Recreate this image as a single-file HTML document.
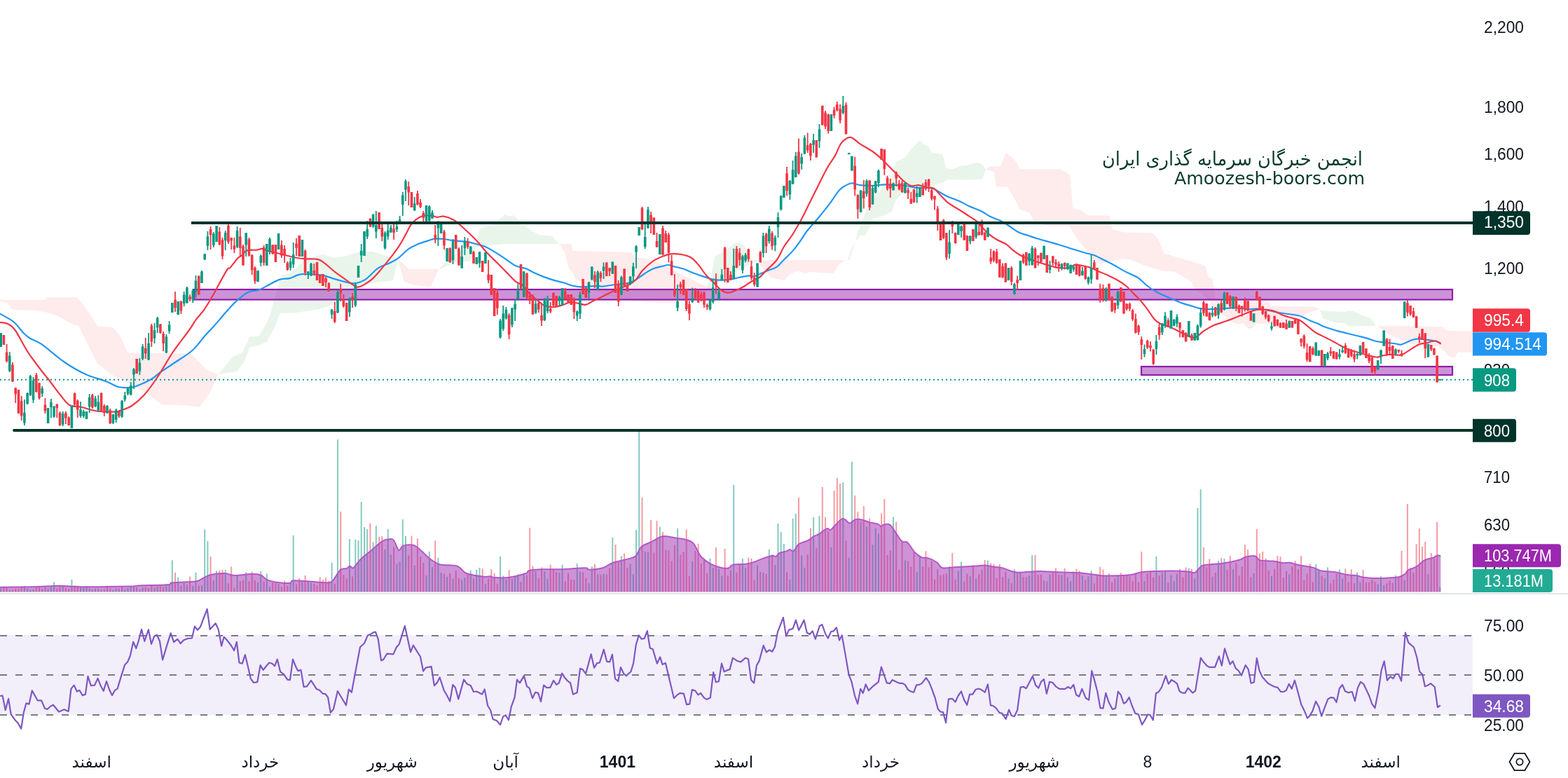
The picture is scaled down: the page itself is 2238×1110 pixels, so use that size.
<!DOCTYPE html>
<html><head><meta charset="utf-8"><title>Chart</title>
<style>html,body{margin:0;padding:0;background:#fff;overflow:hidden}svg{display:block}</style>
</head><body>
<svg width="2238" height="1110" viewBox="0 0 2238 1110">
<rect width="2238" height="1110" fill="#ffffff"/>
<rect x="0" y="906" width="2102" height="114" fill="#f2eefa"/>
<line x1="0" y1="907" x2="2102" y2="907" stroke="#787b86" stroke-width="2" stroke-dasharray="10 12"/>
<line x1="0" y1="963" x2="2102" y2="963" stroke="#787b86" stroke-width="2" stroke-dasharray="10 12"/>
<line x1="0" y1="1020" x2="2102" y2="1020" stroke="#787b86" stroke-width="2" stroke-dasharray="10 12"/>
<polyline fill="none" stroke="#7e57c2" stroke-width="2.2" stroke-linejoin="round" points="0,993 3.6,992.5 7.7,1013.1 12.1,996.9 15.7,1019.1 21.7,1027.5 25.3,1031.2 30.2,1039.6 33.8,1016.7 37.4,1003.4 41.5,1004.6 45.8,985.3 53.6,999.3 59.1,999.3 63.9,1010.6 67.6,1011.9 72.4,1007.5 76,1005.8 84,1015.5 91.7,1012.3 97.7,1015 101.4,982.9 105.7,977.6 109.8,986.5 113.4,984.8 117.8,992.1 121.9,990.6 125.5,964.8 129.8,978.1 135.1,977.6 139.5,967.9 144.1,979.3 147.7,985.8 152,972 156.4,984.8 160,992.1 164.1,984.8 167.7,982.4 173.3,963.6 178.1,948.6 182.2,944.3 185.8,935.8 190.2,915.8 194.3,925 197.9,914.1 202,898 206.3,914.8 211.9,898.4 216,918.9 220.1,908.1 223.9,905.7 228,914.8 232.1,941.4 237.7,922.6 243.7,903.3 248.1,916.1 253.4,911.9 257.7,918.2 261.8,913.6 267.9,911 273.9,910.5 278,893.6 281.9,898.9 286,894.3 295.6,869 299.7,898 307.7,889.3 311.8,898.4 316.1,921.6 319.7,908.8 324.6,914.1 329.4,920.2 334.2,928.1 337.8,915.8 341.5,945.5 345.8,946.7 349.9,934.2 354,951.5 357.9,968.4 362,974 367.3,973.2 371.6,949.1 375.7,955.9 380.1,950.3 384.2,945.5 388.5,946.7 392.1,950.3 395.8,940.7 400.1,958.3 405.4,962.4 410.2,969.6 413.9,970.1 418,940.7 422.3,951.5 425.4,957.1 429.5,955.9 433.6,980 438,979.3 444,970.8 451.7,982.9 456.1,984.8 460.9,989.7 464.5,990.1 468.1,995 471.8,1016.7 475.9,1011.9 481.9,986 494,1006.3 497.8,983.6 501.9,987.7 506.8,961.2 514,923.3 520,917.7 524.9,906.4 529.7,904.5 533.3,902.1 536,901.6 539.7,911.7 544,942.4 547.4,940.7 552.2,932.7 561.4,933.4 565.7,923.8 569.8,918.9 577.8,893.1 586,930.3 589.8,920.6 600,937 604.1,957.6 607.7,952.7 615.7,951 619.8,978.1 623.6,974.4 627.7,966.5 633.8,985.3 637.4,991.3 642.2,1000.5 646.3,977.1 649.9,981 654.3,997.4 662,969.6 666.8,976.1 671.7,978.1 676,987 680.1,986.5 688.1,990.6 691.7,983.4 696,1006.5 700.1,1013.3 703.7,1026.3 709.1,1028.3 713.9,1034.1 718.2,1022 721.8,1020.5 725.9,1027.3 729.8,1008.2 734.6,995 738,969.6 741.9,974.4 747.9,964.1 752,979.3 755.6,981.7 760,996.2 764.1,987.7 768.2,988.9 772,1001 776.1,977.6 780.2,981.2 785.3,981 790.1,970.8 794.2,976.9 797.9,974.4 802.2,960.7 806.3,967.2 809.9,971.3 814,974 817.9,990.6 823.7,988.2 828,953.9 831.6,955.1 836,961.2 843.7,933.4 848.1,952.7 852.2,946.2 855.8,945.5 861.8,926.7 866.1,943.8 870.3,944.3 873.9,933.9 878,968.4 882.3,972 885.9,952 890.3,961.2 893.9,964.1 900.4,958.3 904,946.7 907.7,920.2 911.8,906.4 915.6,911.7 919.7,911 923.8,900.1 927.7,924.5 931.8,926.2 937.8,946.7 942.2,937.5 945.5,947.9 949.9,946 961.9,996.2 966.8,991.3 970.4,988.9 975.9,989.7 980,1005.1 984.2,1004.6 987.8,984.1 992.1,985.3 996.5,991.3 1000.1,988.9 1004.7,995.4 1008.5,997.9 1013.8,995.4 1018.2,959.2 1021.8,973.2 1025.9,972.3 1030,946.7 1033.6,958.3 1037.5,956.4 1041.6,955.1 1045.9,938.7 1051.2,942.4 1054.9,943.8 1057.3,944.3 1064,938.7 1068,940.2 1072.1,970.3 1076.2,974.4 1080,949.1 1083.6,943.1 1089.7,920.9 1093.8,930.5 1098.1,927.4 1102.2,929.8 1105.8,923.1 1110,901.6 1117.9,881.1 1122,907.6 1125.9,898.9 1131.7,896.7 1136,884.7 1140.1,899.2 1147.6,884.7 1151.7,902.5 1155.8,905 1159.7,900.4 1163.8,911.7 1169.8,893.1 1173.4,891.2 1178.2,904.5 1181.9,910.5 1186,901.3 1189.8,900.4 1193.9,895.3 1198,913.4 1201.7,906.4 1206.7,934.6 1211.5,962.4 1215.6,973.2 1220,992.5 1224.1,1004.1 1228.2,982.9 1231.8,988.9 1235.7,976.4 1239.8,985.3 1245.8,979.3 1253.8,972.8 1257.9,951.5 1265.8,974.4 1269.9,975.2 1273.6,970.1 1280.1,973.2 1284.4,974.9 1288,974.9 1291.7,976.9 1296,984.1 1300.1,986.5 1304.2,987.7 1308.1,977.3 1312.2,976.9 1315.8,974.9 1321.8,967.2 1325.9,972.8 1329.8,982.4 1334.4,995 1338.7,1011.4 1342.3,1015.5 1346,1016 1350.1,1031.2 1353.9,997.4 1359.2,996.9 1363.6,1001.5 1367.7,992.5 1372,986.5 1376.1,998.6 1380.2,1005.8 1384.1,990.6 1388.2,990.6 1392.3,984.1 1396.6,982.4 1400.7,984.1 1405.8,987.7 1409.9,976.4 1414,1006.3 1417.6,1007 1422,1010.6 1426.3,1016.7 1430.4,1017.9 1435.7,1025.8 1440.1,1012.6 1443.7,1021 1447.8,1022.2 1452.1,1013.1 1456.5,980.5 1460.6,979.8 1464.7,982.2 1473.9,964.8 1478.2,977.6 1482.3,981.7 1485.9,972.8 1490,969.1 1493.9,989.7 1498,972.8 1502.1,973.7 1506.9,979.3 1512,982.9 1520.2,982.9 1524.5,980 1528.1,982.4 1532.2,976.9 1536.1,991.3 1540.2,993.8 1544.3,982.9 1549.9,996.2 1554.2,998.6 1558.3,957.1 1561.9,969.6 1566.3,986.5 1570.4,1010.2 1574.5,1010.6 1578.3,988.9 1582.4,1001.5 1587.8,1011.9 1592.1,1010.6 1595.8,986.7 1599.8,991.6 1603.9,1003.7 1607.4,1001.8 1611.6,994.9 1615.6,1006.5 1620.2,1017.6 1624.9,1019.3 1630,1033.9 1634.1,1027.4 1638.1,1019.5 1641.6,1020 1645.8,1027.4 1649.9,989.3 1653.9,987 1658.1,980.5 1663.9,964.2 1667.8,975.8 1672,970 1676,972.3 1679.9,975.1 1683.6,986.3 1687.6,988.6 1691.5,988.6 1695.7,981.6 1702.2,988.6 1706.2,985.6 1713.8,938.6 1717.8,944.5 1722.4,949.8 1725.9,951.9 1734.1,951.9 1739.9,936.3 1743.8,949.8 1748,925.4 1751.9,937.5 1755.7,947.9 1759.6,943.3 1763.8,953.7 1767.7,956.8 1771.9,963.7 1777.7,949.1 1781.7,954.9 1785.6,974.7 1789.8,973.5 1793.8,939.1 1797.5,956.8 1801.9,966.1 1809.6,974.7 1814.2,977.4 1818.9,979.8 1823.5,980.9 1828.2,987 1832.1,987 1835.8,985.1 1839.8,975.8 1843.7,982.8 1847.9,970.7 1852.5,987.4 1857.2,1004.9 1861.8,1014.2 1866,1024.6 1869.5,1021.1 1873.5,1014.2 1878.1,1000.7 1882.3,1008.3 1886.2,1021.8 1890.9,1008.8 1895.5,997.2 1899.7,995.1 1903.7,995.6 1907.6,1001.8 1911.8,982.3 1916,977 1919.9,986.3 1924.6,988.1 1929.9,987 1933.9,1000.2 1937.8,981.6 1942,972.8 1946.2,975.8 1950.1,983.9 1954.1,992.5 1958.3,1004.4 1962.4,1010.2 1967.6,984.6 1971.7,956.1 1975.7,943.3 1979.9,970.7 1984.3,965.4 1988.5,968.2 1992,961.9 1996.1,961.9 2000.1,971.6 2005.9,902.6 2010.1,916.6 2014,920.1 2018,923.5 2022.2,937.5 2026.1,957.9 2030.3,962.3 2033.8,979.3 2038,977.7 2041.9,975.1 2047.7,980 2051.9,1009 2055.8,1006.5"/>
<polygon fill="rgba(242,54,69,0.10)" points="0,427 8,428.3 64.3,427.7 67,424.2 110,424.2 118,433.6 131.4,452.4 139.4,465.8 160.9,467 171.6,479.2 182.3,503.3 273.5,504.7 281.5,514 295,527.5 311,534 300.3,559.6 284.2,581 265.4,578.4 230.6,577 214.5,565 198.4,554.3 182.3,546.2 160.9,535.5 139.4,519.4 123.3,487.2 112.6,465.8 101.9,461.8 80.4,449.7 53.6,443 17.4,441.7 10.7,432.3 0,430"/>
<polygon fill="rgba(76,175,80,0.12)" points="311,534 321.7,522 332.4,508.7 345.8,503.3 356.6,480.5 370,479.2 380.7,460.4 386,447 396.8,409.5 402,393.4 416.9,388 435,370 453,364.7 460,363 478,368 496,364.7 514,359 532,359 550,364.7 568,370 561,400 547,402 523,404 505,417 482.6,432 455.8,441 423.6,446 399.5,447 391.4,468.5 380.7,487.2 370,492.6 356.6,495.3 348.5,516.7 337.8,530"/>
<polygon fill="rgba(242,54,69,0.10)" points="568,371 577,377 583,384 626,384 615,409 592,407 577,402"/>
<polygon fill="rgba(76,175,80,0.12)" points="625,385 640,370 660,355 678,348 681,340 685,326 694,323 706,320 712,313 721,306 727,309 733,307 739,313 742,320 752,324 758,329 770,335 788,337 798,348 720,348 680,352 671,373 651,374"/>
<polygon fill="rgba(242,54,69,0.10)" points="798,348 815,348 818,358 901,360 907,368 918,368 935,372 960,385 980,395 1000,405 1015,410 990,428 960,432 935,432 890,428 860,420 830,403 821,398 818,389 812,383 809,371 806,359"/>
<polygon fill="rgba(76,175,80,0.12)" points="1009,412 1015,395 1019,372 1021,365 1029,361.6 1048,347 1055,345.4 1063,352 1068,363 1072,370 1085,372 1060,383 1030,398 1015,412"/>
<polygon fill="rgba(242,54,69,0.10)" points="1085,372 1103,371 1210,371 1205,372 1196,379 1190,390 1156,388 1149,390 1138,386.5 1127,392 1119,400 1101,396 1085,378"/>
<polygon fill="rgba(76,175,80,0.12)" points="1210,371 1215,355 1221,345 1224.5,330 1235.3,303 1246,283 1258.7,268.7 1275,247 1278.6,231 1291,225.5 1300.2,212.9 1312.9,200.3 1318,205.7 1325.4,209.3 1330.6,218.3 1345.2,220 1350.6,240 1359.6,241.7 1372.3,236.3 1380,236 1393,232 1401.6,234 1407,241.6 1401.6,255.7 1380,256.8 1352.5,256 1347,259.7 1336,263.3 1323.6,268.7 1309,268.7 1291,274 1278.6,285 1273,302 1260,308 1246,312.6 1242.5,321.6 1235,336 1228,336 1221,345 1212.8,370"/>
<polygon fill="rgba(242,54,69,0.10)" points="1407,241.6 1414.6,237.3 1427.6,237.3 1436.2,217.8 1444.9,225.4 1451.4,231.9 1455.7,241.6 1514,241.6 1527,249.2 1531.4,296.8 1544.3,301 1553,307.6 1583.2,307.6 1587.6,327 1604.9,331.4 1646,332.4 1654.6,344.3 1661,361.6 1713,376.8 1720.9,380 1724.4,395 1730.2,397.4 1732.5,410.2 1734.6,428.4 1809.2,428.8 1815,436.9 1876.5,437.5 1883.5,441.6 1874.2,443.9 1862.6,448.5 1851,454.3 1839.4,456.7 1827.8,459 1816,461.3 1804.5,462.5 1793,461.3 1786,469.4 1781.3,468.3 1774.3,461.3 1765,462.5 1758,459 1746.5,449.7 1734.8,440.4 1723.2,426.5 1704.6,410.2 1700,401.4 1688.3,394.6 1677,387.8 1661.3,386.7 1647.7,383.3 1627.5,376.6 1618.5,372 1602.7,368.7 1589,372 1571,376.6 1557.7,367.6 1548.6,354 1537.4,340.5 1526,322.5 1496.8,322.5 1478.8,318 1468.6,303.2 1455.7,299 1449.2,286 1438.4,266.5 1422,266.5 1419,245"/>
<polygon fill="rgba(76,175,80,0.12)" points="1883.5,441.6 1888.2,443.3 1897.4,443.9 1920.7,445 1925.3,443.3 1932.3,443.9 1943.9,449.7 1955,453.3 1959.3,457.7 1963.6,464.9 1966.5,464.9 1925.3,465.4 1920.7,461.3 1904.4,460.1 1888.2,454.3"/>
<polygon fill="rgba(242,54,69,0.10)" points="1966.5,464.9 1989.6,464.9 2058.8,466.3 2066,472 2102,472.8 2102,502.4 2080.4,502.4 2076,511 2067.4,508 2061.7,501 2053,493.7 2041.5,495.2 2032.8,495.2 2021.3,492.3 2009.8,489.4 1995.3,482.2 1983.8,477.9 1975.2,472"/>
<rect x="0.2" y="839.4" width="2" height="5.1" fill="rgba(8,153,129,0.5)"/>
<rect x="4.4" y="837.9" width="2" height="6.6" fill="rgba(242,54,69,0.5)"/>
<rect x="8.6" y="838.3" width="2" height="6.2" fill="rgba(242,54,69,0.5)"/>
<rect x="12.8" y="841.3" width="2" height="3.2" fill="rgba(8,153,129,0.5)"/>
<rect x="17" y="841.1" width="2" height="3.4" fill="rgba(242,54,69,0.5)"/>
<rect x="21.2" y="840" width="2" height="4.5" fill="rgba(242,54,69,0.5)"/>
<rect x="25.5" y="840.1" width="2" height="4.4" fill="rgba(242,54,69,0.5)"/>
<rect x="29.7" y="837.8" width="2" height="6.7" fill="rgba(242,54,69,0.5)"/>
<rect x="33.9" y="835.8" width="2" height="8.7" fill="rgba(8,153,129,0.5)"/>
<rect x="38.1" y="839.8" width="2" height="4.7" fill="rgba(8,153,129,0.5)"/>
<rect x="42.3" y="841.4" width="2" height="3.1" fill="rgba(8,153,129,0.5)"/>
<rect x="46.5" y="840.8" width="2" height="3.7" fill="rgba(8,153,129,0.5)"/>
<rect x="50.8" y="837" width="2" height="7.5" fill="rgba(242,54,69,0.5)"/>
<rect x="55" y="837.7" width="2" height="6.8" fill="rgba(242,54,69,0.5)"/>
<rect x="59.2" y="839.9" width="2" height="4.6" fill="rgba(8,153,129,0.5)"/>
<rect x="63.4" y="836" width="2" height="8.5" fill="rgba(242,54,69,0.5)"/>
<rect x="67.6" y="839.4" width="2" height="5.1" fill="rgba(8,153,129,0.5)"/>
<rect x="71.9" y="837.7" width="2" height="6.8" fill="rgba(8,153,129,0.5)"/>
<rect x="76.1" y="830.4" width="2" height="14.1" fill="rgba(8,153,129,0.5)"/>
<rect x="80.3" y="839.6" width="2" height="4.9" fill="rgba(242,54,69,0.5)"/>
<rect x="84.5" y="835.9" width="2" height="8.6" fill="rgba(242,54,69,0.5)"/>
<rect x="88.7" y="835.3" width="2" height="9.2" fill="rgba(8,153,129,0.5)"/>
<rect x="92.9" y="838.8" width="2" height="5.7" fill="rgba(242,54,69,0.5)"/>
<rect x="97.2" y="840.1" width="2" height="4.4" fill="rgba(242,54,69,0.5)"/>
<rect x="101.4" y="827" width="2" height="17.5" fill="rgba(8,153,129,0.5)"/>
<rect x="105.6" y="834.8" width="2" height="9.7" fill="rgba(242,54,69,0.5)"/>
<rect x="109.8" y="835.5" width="2" height="9" fill="rgba(242,54,69,0.5)"/>
<rect x="114" y="837.5" width="2" height="7" fill="rgba(8,153,129,0.5)"/>
<rect x="118.3" y="838.5" width="2" height="6" fill="rgba(8,153,129,0.5)"/>
<rect x="122.5" y="835.9" width="2" height="8.6" fill="rgba(8,153,129,0.5)"/>
<rect x="126.7" y="839.5" width="2" height="5" fill="rgba(8,153,129,0.5)"/>
<rect x="130.9" y="841" width="2" height="3.5" fill="rgba(242,54,69,0.5)"/>
<rect x="135.1" y="839.5" width="2" height="5" fill="rgba(8,153,129,0.5)"/>
<rect x="139.3" y="839.9" width="2" height="4.6" fill="rgba(8,153,129,0.5)"/>
<rect x="143.6" y="840.9" width="2" height="3.6" fill="rgba(242,54,69,0.5)"/>
<rect x="147.8" y="840.6" width="2" height="3.9" fill="rgba(242,54,69,0.5)"/>
<rect x="152" y="835.7" width="2" height="8.8" fill="rgba(8,153,129,0.5)"/>
<rect x="156.2" y="839.4" width="2" height="5.1" fill="rgba(242,54,69,0.5)"/>
<rect x="160.4" y="841.6" width="2" height="2.9" fill="rgba(8,153,129,0.5)"/>
<rect x="164.7" y="839.5" width="2" height="5" fill="rgba(8,153,129,0.5)"/>
<rect x="168.9" y="839.8" width="2" height="4.7" fill="rgba(242,54,69,0.5)"/>
<rect x="173.1" y="837.1" width="2" height="7.4" fill="rgba(8,153,129,0.5)"/>
<rect x="177.3" y="840.7" width="2" height="3.8" fill="rgba(8,153,129,0.5)"/>
<rect x="181.5" y="838.9" width="2" height="5.6" fill="rgba(8,153,129,0.5)"/>
<rect x="185.7" y="837.3" width="2" height="7.2" fill="rgba(8,153,129,0.5)"/>
<rect x="190" y="836.2" width="2" height="8.3" fill="rgba(8,153,129,0.5)"/>
<rect x="194.2" y="837.7" width="2" height="6.8" fill="rgba(242,54,69,0.5)"/>
<rect x="198.4" y="840.8" width="2" height="3.7" fill="rgba(8,153,129,0.5)"/>
<rect x="202.6" y="838.2" width="2" height="6.3" fill="rgba(8,153,129,0.5)"/>
<rect x="206.8" y="837.3" width="2" height="7.2" fill="rgba(242,54,69,0.5)"/>
<rect x="211.1" y="839.2" width="2" height="5.3" fill="rgba(8,153,129,0.5)"/>
<rect x="215.3" y="835.4" width="2" height="9.1" fill="rgba(242,54,69,0.5)"/>
<rect x="219.5" y="838" width="2" height="6.5" fill="rgba(8,153,129,0.5)"/>
<rect x="223.7" y="836.9" width="2" height="7.6" fill="rgba(8,153,129,0.5)"/>
<rect x="227.9" y="836.3" width="2" height="8.2" fill="rgba(242,54,69,0.5)"/>
<rect x="232.1" y="837" width="2" height="7.5" fill="rgba(242,54,69,0.5)"/>
<rect x="236.4" y="833" width="2" height="11.5" fill="rgba(8,153,129,0.5)"/>
<rect x="240.6" y="834.6" width="2" height="9.9" fill="rgba(8,153,129,0.5)"/>
<rect x="244.8" y="799.4" width="2" height="45.1" fill="rgba(8,153,129,0.5)"/>
<rect x="249" y="816.8" width="2" height="27.7" fill="rgba(242,54,69,0.5)"/>
<rect x="253.2" y="824" width="2" height="20.5" fill="rgba(8,153,129,0.5)"/>
<rect x="257.4" y="835.3" width="2" height="9.2" fill="rgba(242,54,69,0.5)"/>
<rect x="261.7" y="831.1" width="2" height="13.4" fill="rgba(8,153,129,0.5)"/>
<rect x="265.9" y="833.9" width="2" height="10.6" fill="rgba(8,153,129,0.5)"/>
<rect x="270.1" y="822.7" width="2" height="21.8" fill="rgba(242,54,69,0.5)"/>
<rect x="274.3" y="835.9" width="2" height="8.6" fill="rgba(8,153,129,0.5)"/>
<rect x="278.5" y="816.8" width="2" height="27.7" fill="rgba(8,153,129,0.5)"/>
<rect x="282.8" y="835.3" width="2" height="9.2" fill="rgba(242,54,69,0.5)"/>
<rect x="287" y="835.2" width="2" height="9.3" fill="rgba(8,153,129,0.5)"/>
<rect x="291.2" y="755.2" width="2" height="89.3" fill="rgba(8,153,129,0.5)"/>
<rect x="295.4" y="772" width="2" height="72.5" fill="rgba(8,153,129,0.5)"/>
<rect x="299.6" y="794" width="2" height="50.5" fill="rgba(242,54,69,0.5)"/>
<rect x="303.8" y="828.1" width="2" height="16.4" fill="rgba(8,153,129,0.5)"/>
<rect x="308.1" y="814.2" width="2" height="30.3" fill="rgba(8,153,129,0.5)"/>
<rect x="312.3" y="813.7" width="2" height="30.8" fill="rgba(242,54,69,0.5)"/>
<rect x="316.5" y="813.1" width="2" height="31.4" fill="rgba(242,54,69,0.5)"/>
<rect x="320.7" y="813.1" width="2" height="31.4" fill="rgba(8,153,129,0.5)"/>
<rect x="324.9" y="832.2" width="2" height="12.3" fill="rgba(242,54,69,0.5)"/>
<rect x="329.2" y="808.5" width="2" height="36" fill="rgba(242,54,69,0.5)"/>
<rect x="333.4" y="838.6" width="2" height="5.9" fill="rgba(242,54,69,0.5)"/>
<rect x="337.6" y="819.8" width="2" height="24.7" fill="rgba(8,153,129,0.5)"/>
<rect x="341.8" y="829.1" width="2" height="15.4" fill="rgba(242,54,69,0.5)"/>
<rect x="346" y="827.7" width="2" height="16.8" fill="rgba(242,54,69,0.5)"/>
<rect x="350.2" y="816.3" width="2" height="28.2" fill="rgba(8,153,129,0.5)"/>
<rect x="354.5" y="829.3" width="2" height="15.2" fill="rgba(242,54,69,0.5)"/>
<rect x="358.7" y="815.7" width="2" height="28.8" fill="rgba(242,54,69,0.5)"/>
<rect x="362.9" y="827.7" width="2" height="16.8" fill="rgba(242,54,69,0.5)"/>
<rect x="367.1" y="830.8" width="2" height="13.7" fill="rgba(8,153,129,0.5)"/>
<rect x="371.3" y="815" width="2" height="29.5" fill="rgba(8,153,129,0.5)"/>
<rect x="375.6" y="829.7" width="2" height="14.8" fill="rgba(242,54,69,0.5)"/>
<rect x="379.8" y="818.3" width="2" height="26.2" fill="rgba(8,153,129,0.5)"/>
<rect x="384" y="837.3" width="2" height="7.2" fill="rgba(8,153,129,0.5)"/>
<rect x="388.2" y="831.3" width="2" height="13.2" fill="rgba(242,54,69,0.5)"/>
<rect x="392.4" y="832.1" width="2" height="12.4" fill="rgba(242,54,69,0.5)"/>
<rect x="396.6" y="833.3" width="2" height="11.2" fill="rgba(8,153,129,0.5)"/>
<rect x="400.9" y="837" width="2" height="7.5" fill="rgba(242,54,69,0.5)"/>
<rect x="405.1" y="828.5" width="2" height="16" fill="rgba(242,54,69,0.5)"/>
<rect x="409.3" y="835.9" width="2" height="8.6" fill="rgba(242,54,69,0.5)"/>
<rect x="413.5" y="830.8" width="2" height="13.7" fill="rgba(8,153,129,0.5)"/>
<rect x="417.7" y="763.8" width="2" height="80.7" fill="rgba(8,153,129,0.5)"/>
<rect x="422" y="833.8" width="2" height="10.7" fill="rgba(242,54,69,0.5)"/>
<rect x="426.2" y="824.8" width="2" height="19.7" fill="rgba(242,54,69,0.5)"/>
<rect x="430.4" y="828.7" width="2" height="15.8" fill="rgba(8,153,129,0.5)"/>
<rect x="434.6" y="821" width="2" height="23.5" fill="rgba(242,54,69,0.5)"/>
<rect x="438.8" y="829.4" width="2" height="15.1" fill="rgba(8,153,129,0.5)"/>
<rect x="443" y="831.5" width="2" height="13" fill="rgba(8,153,129,0.5)"/>
<rect x="447.3" y="832.9" width="2" height="11.6" fill="rgba(242,54,69,0.5)"/>
<rect x="451.5" y="835.1" width="2" height="9.4" fill="rgba(242,54,69,0.5)"/>
<rect x="455.7" y="823.7" width="2" height="20.8" fill="rgba(242,54,69,0.5)"/>
<rect x="459.9" y="826.9" width="2" height="17.6" fill="rgba(242,54,69,0.5)"/>
<rect x="464.1" y="824.4" width="2" height="20.1" fill="rgba(242,54,69,0.5)"/>
<rect x="468.3" y="828.6" width="2" height="15.9" fill="rgba(242,54,69,0.5)"/>
<rect x="472.6" y="802.8" width="2" height="41.7" fill="rgba(8,153,129,0.5)"/>
<rect x="476.8" y="832.7" width="2" height="11.8" fill="rgba(242,54,69,0.5)"/>
<rect x="481" y="627" width="2" height="217.5" fill="rgba(8,153,129,0.5)"/>
<rect x="485.2" y="730" width="2" height="114.5" fill="rgba(242,54,69,0.5)"/>
<rect x="489.4" y="820.2" width="2" height="24.3" fill="rgba(242,54,69,0.5)"/>
<rect x="493.7" y="825.4" width="2" height="19.1" fill="rgba(242,54,69,0.5)"/>
<rect x="497.9" y="769" width="2" height="75.5" fill="rgba(8,153,129,0.5)"/>
<rect x="502.1" y="822.4" width="2" height="22.1" fill="rgba(242,54,69,0.5)"/>
<rect x="506.3" y="770" width="2" height="74.5" fill="rgba(8,153,129,0.5)"/>
<rect x="510.5" y="771" width="2" height="73.5" fill="rgba(8,153,129,0.5)"/>
<rect x="514.7" y="716" width="2" height="128.5" fill="rgba(8,153,129,0.5)"/>
<rect x="519" y="752" width="2" height="92.5" fill="rgba(8,153,129,0.5)"/>
<rect x="523.2" y="755" width="2" height="89.5" fill="rgba(8,153,129,0.5)"/>
<rect x="527.4" y="746.4" width="2" height="98.1" fill="rgba(242,54,69,0.5)"/>
<rect x="531.6" y="773.4" width="2" height="71.1" fill="rgba(8,153,129,0.5)"/>
<rect x="535.8" y="750" width="2" height="94.5" fill="rgba(8,153,129,0.5)"/>
<rect x="540.1" y="766" width="2" height="78.5" fill="rgba(242,54,69,0.5)"/>
<rect x="544.3" y="765" width="2" height="79.5" fill="rgba(242,54,69,0.5)"/>
<rect x="548.5" y="784.1" width="2" height="60.4" fill="rgba(8,153,129,0.5)"/>
<rect x="552.7" y="754.8" width="2" height="89.7" fill="rgba(8,153,129,0.5)"/>
<rect x="556.9" y="791.1" width="2" height="53.4" fill="rgba(8,153,129,0.5)"/>
<rect x="561.1" y="780.5" width="2" height="64" fill="rgba(242,54,69,0.5)"/>
<rect x="565.4" y="804.3" width="2" height="40.2" fill="rgba(8,153,129,0.5)"/>
<rect x="569.6" y="801.6" width="2" height="42.9" fill="rgba(8,153,129,0.5)"/>
<rect x="573.8" y="741" width="2" height="103.5" fill="rgba(8,153,129,0.5)"/>
<rect x="578" y="765" width="2" height="79.5" fill="rgba(8,153,129,0.5)"/>
<rect x="582.2" y="792.7" width="2" height="51.8" fill="rgba(242,54,69,0.5)"/>
<rect x="586.5" y="764.6" width="2" height="79.9" fill="rgba(242,54,69,0.5)"/>
<rect x="590.7" y="807" width="2" height="37.5" fill="rgba(8,153,129,0.5)"/>
<rect x="594.9" y="768.3" width="2" height="76.2" fill="rgba(242,54,69,0.5)"/>
<rect x="599.1" y="794.3" width="2" height="50.2" fill="rgba(242,54,69,0.5)"/>
<rect x="603.3" y="803.2" width="2" height="41.3" fill="rgba(242,54,69,0.5)"/>
<rect x="607.5" y="821.1" width="2" height="23.4" fill="rgba(8,153,129,0.5)"/>
<rect x="611.8" y="786.9" width="2" height="57.6" fill="rgba(8,153,129,0.5)"/>
<rect x="616" y="809" width="2" height="35.5" fill="rgba(8,153,129,0.5)"/>
<rect x="620.2" y="771.4" width="2" height="73.1" fill="rgba(242,54,69,0.5)"/>
<rect x="624.4" y="795.8" width="2" height="48.7" fill="rgba(8,153,129,0.5)"/>
<rect x="628.6" y="816.9" width="2" height="27.6" fill="rgba(8,153,129,0.5)"/>
<rect x="632.9" y="818.9" width="2" height="25.6" fill="rgba(242,54,69,0.5)"/>
<rect x="637.1" y="823" width="2" height="21.5" fill="rgba(8,153,129,0.5)"/>
<rect x="641.3" y="817.9" width="2" height="26.6" fill="rgba(242,54,69,0.5)"/>
<rect x="645.5" y="826" width="2" height="18.5" fill="rgba(8,153,129,0.5)"/>
<rect x="649.7" y="813.8" width="2" height="30.7" fill="rgba(242,54,69,0.5)"/>
<rect x="653.9" y="824.6" width="2" height="19.9" fill="rgba(242,54,69,0.5)"/>
<rect x="658.2" y="827.5" width="2" height="17" fill="rgba(8,153,129,0.5)"/>
<rect x="662.4" y="824.1" width="2" height="20.4" fill="rgba(8,153,129,0.5)"/>
<rect x="666.6" y="818.8" width="2" height="25.7" fill="rgba(242,54,69,0.5)"/>
<rect x="670.8" y="813.9" width="2" height="30.6" fill="rgba(8,153,129,0.5)"/>
<rect x="675" y="825.6" width="2" height="18.9" fill="rgba(242,54,69,0.5)"/>
<rect x="679.2" y="813" width="2" height="31.5" fill="rgba(8,153,129,0.5)"/>
<rect x="683.5" y="810.1" width="2" height="34.4" fill="rgba(8,153,129,0.5)"/>
<rect x="687.7" y="811.3" width="2" height="33.2" fill="rgba(242,54,69,0.5)"/>
<rect x="691.9" y="833.3" width="2" height="11.2" fill="rgba(8,153,129,0.5)"/>
<rect x="696.1" y="825.1" width="2" height="19.4" fill="rgba(242,54,69,0.5)"/>
<rect x="700.3" y="812.2" width="2" height="32.3" fill="rgba(242,54,69,0.5)"/>
<rect x="704.6" y="817.9" width="2" height="26.6" fill="rgba(242,54,69,0.5)"/>
<rect x="708.8" y="832.6" width="2" height="11.9" fill="rgba(242,54,69,0.5)"/>
<rect x="713" y="794" width="2" height="50.5" fill="rgba(8,153,129,0.5)"/>
<rect x="717.2" y="821.4" width="2" height="23.1" fill="rgba(8,153,129,0.5)"/>
<rect x="721.4" y="827" width="2" height="17.5" fill="rgba(8,153,129,0.5)"/>
<rect x="725.6" y="813.2" width="2" height="31.3" fill="rgba(242,54,69,0.5)"/>
<rect x="729.9" y="825.6" width="2" height="18.9" fill="rgba(8,153,129,0.5)"/>
<rect x="734.1" y="822.5" width="2" height="22" fill="rgba(8,153,129,0.5)"/>
<rect x="738.3" y="819.1" width="2" height="25.4" fill="rgba(8,153,129,0.5)"/>
<rect x="742.5" y="830.2" width="2" height="14.3" fill="rgba(242,54,69,0.5)"/>
<rect x="746.7" y="817.5" width="2" height="27" fill="rgba(8,153,129,0.5)"/>
<rect x="751" y="820.8" width="2" height="23.7" fill="rgba(242,54,69,0.5)"/>
<rect x="755.2" y="753" width="2" height="91.5" fill="rgba(242,54,69,0.5)"/>
<rect x="759.4" y="807.4" width="2" height="37.1" fill="rgba(242,54,69,0.5)"/>
<rect x="763.6" y="814.5" width="2" height="30" fill="rgba(8,153,129,0.5)"/>
<rect x="767.8" y="824.8" width="2" height="19.7" fill="rgba(242,54,69,0.5)"/>
<rect x="772" y="809.4" width="2" height="35.1" fill="rgba(242,54,69,0.5)"/>
<rect x="776.3" y="815.4" width="2" height="29.1" fill="rgba(8,153,129,0.5)"/>
<rect x="780.5" y="826.1" width="2" height="18.4" fill="rgba(8,153,129,0.5)"/>
<rect x="784.7" y="805.7" width="2" height="38.8" fill="rgba(242,54,69,0.5)"/>
<rect x="788.9" y="811.5" width="2" height="33" fill="rgba(242,54,69,0.5)"/>
<rect x="793.1" y="816.1" width="2" height="28.4" fill="rgba(242,54,69,0.5)"/>
<rect x="797.4" y="817.4" width="2" height="27.1" fill="rgba(8,153,129,0.5)"/>
<rect x="801.6" y="805.6" width="2" height="38.9" fill="rgba(8,153,129,0.5)"/>
<rect x="805.8" y="829.3" width="2" height="15.2" fill="rgba(242,54,69,0.5)"/>
<rect x="810" y="817.5" width="2" height="27" fill="rgba(242,54,69,0.5)"/>
<rect x="814.2" y="826.7" width="2" height="17.8" fill="rgba(242,54,69,0.5)"/>
<rect x="818.4" y="827.4" width="2" height="17.1" fill="rgba(242,54,69,0.5)"/>
<rect x="822.7" y="804.1" width="2" height="40.4" fill="rgba(8,153,129,0.5)"/>
<rect x="826.9" y="815.6" width="2" height="28.9" fill="rgba(8,153,129,0.5)"/>
<rect x="831.1" y="816.5" width="2" height="28" fill="rgba(242,54,69,0.5)"/>
<rect x="835.3" y="824.5" width="2" height="20" fill="rgba(242,54,69,0.5)"/>
<rect x="839.5" y="832.1" width="2" height="12.4" fill="rgba(8,153,129,0.5)"/>
<rect x="843.8" y="808.2" width="2" height="36.3" fill="rgba(8,153,129,0.5)"/>
<rect x="848" y="805" width="2" height="39.5" fill="rgba(242,54,69,0.5)"/>
<rect x="852.2" y="819.6" width="2" height="24.9" fill="rgba(8,153,129,0.5)"/>
<rect x="856.4" y="819.8" width="2" height="24.7" fill="rgba(242,54,69,0.5)"/>
<rect x="860.6" y="818.9" width="2" height="25.6" fill="rgba(8,153,129,0.5)"/>
<rect x="864.8" y="819.3" width="2" height="25.2" fill="rgba(242,54,69,0.5)"/>
<rect x="869.1" y="810.5" width="2" height="34" fill="rgba(242,54,69,0.5)"/>
<rect x="873.3" y="767" width="2" height="77.5" fill="rgba(8,153,129,0.5)"/>
<rect x="877.5" y="777" width="2" height="67.5" fill="rgba(242,54,69,0.5)"/>
<rect x="881.7" y="800.5" width="2" height="44" fill="rgba(242,54,69,0.5)"/>
<rect x="885.9" y="793.1" width="2" height="51.4" fill="rgba(8,153,129,0.5)"/>
<rect x="890.1" y="789.6" width="2" height="54.9" fill="rgba(242,54,69,0.5)"/>
<rect x="894.4" y="810" width="2" height="34.5" fill="rgba(242,54,69,0.5)"/>
<rect x="898.6" y="804.5" width="2" height="40" fill="rgba(8,153,129,0.5)"/>
<rect x="902.8" y="819.3" width="2" height="25.2" fill="rgba(8,153,129,0.5)"/>
<rect x="907" y="756" width="2" height="88.5" fill="rgba(8,153,129,0.5)"/>
<rect x="911.2" y="612.5" width="2" height="232" fill="rgba(8,153,129,0.5)"/>
<rect x="915.5" y="710" width="2" height="134.5" fill="rgba(242,54,69,0.5)"/>
<rect x="919.7" y="787" width="2" height="57.5" fill="rgba(8,153,129,0.5)"/>
<rect x="923.9" y="787.4" width="2" height="57.1" fill="rgba(8,153,129,0.5)"/>
<rect x="928.1" y="742" width="2" height="102.5" fill="rgba(242,54,69,0.5)"/>
<rect x="932.3" y="788.5" width="2" height="56" fill="rgba(242,54,69,0.5)"/>
<rect x="936.5" y="743" width="2" height="101.5" fill="rgba(242,54,69,0.5)"/>
<rect x="940.8" y="751.5" width="2" height="93" fill="rgba(8,153,129,0.5)"/>
<rect x="945" y="759" width="2" height="85.5" fill="rgba(242,54,69,0.5)"/>
<rect x="949.2" y="784.6" width="2" height="59.9" fill="rgba(242,54,69,0.5)"/>
<rect x="953.4" y="785.2" width="2" height="59.3" fill="rgba(242,54,69,0.5)"/>
<rect x="957.6" y="800.3" width="2" height="44.2" fill="rgba(242,54,69,0.5)"/>
<rect x="961.9" y="777.5" width="2" height="67" fill="rgba(242,54,69,0.5)"/>
<rect x="966.1" y="753.9" width="2" height="90.6" fill="rgba(8,153,129,0.5)"/>
<rect x="970.3" y="791.5" width="2" height="53" fill="rgba(242,54,69,0.5)"/>
<rect x="974.5" y="787.4" width="2" height="57.1" fill="rgba(242,54,69,0.5)"/>
<rect x="978.7" y="755.2" width="2" height="89.3" fill="rgba(242,54,69,0.5)"/>
<rect x="982.9" y="822" width="2" height="22.5" fill="rgba(242,54,69,0.5)"/>
<rect x="987.2" y="800.9" width="2" height="43.6" fill="rgba(8,153,129,0.5)"/>
<rect x="991.4" y="786" width="2" height="58.5" fill="rgba(242,54,69,0.5)"/>
<rect x="995.6" y="775.7" width="2" height="68.8" fill="rgba(242,54,69,0.5)"/>
<rect x="999.8" y="804" width="2" height="40.5" fill="rgba(242,54,69,0.5)"/>
<rect x="1004" y="797.7" width="2" height="46.8" fill="rgba(242,54,69,0.5)"/>
<rect x="1008.3" y="817.6" width="2" height="26.9" fill="rgba(242,54,69,0.5)"/>
<rect x="1012.5" y="796.6" width="2" height="47.9" fill="rgba(8,153,129,0.5)"/>
<rect x="1016.7" y="809.9" width="2" height="34.6" fill="rgba(8,153,129,0.5)"/>
<rect x="1020.9" y="781" width="2" height="63.5" fill="rgba(242,54,69,0.5)"/>
<rect x="1025.1" y="811.5" width="2" height="33" fill="rgba(8,153,129,0.5)"/>
<rect x="1029.3" y="821.5" width="2" height="23" fill="rgba(8,153,129,0.5)"/>
<rect x="1033.6" y="783" width="2" height="61.5" fill="rgba(242,54,69,0.5)"/>
<rect x="1037.8" y="821.3" width="2" height="23.2" fill="rgba(242,54,69,0.5)"/>
<rect x="1042" y="813.4" width="2" height="31.1" fill="rgba(242,54,69,0.5)"/>
<rect x="1046.2" y="692" width="2" height="152.5" fill="rgba(8,153,129,0.5)"/>
<rect x="1050.4" y="816.7" width="2" height="27.8" fill="rgba(242,54,69,0.5)"/>
<rect x="1054.7" y="805" width="2" height="39.5" fill="rgba(242,54,69,0.5)"/>
<rect x="1058.9" y="797.1" width="2" height="47.4" fill="rgba(8,153,129,0.5)"/>
<rect x="1063.1" y="810.1" width="2" height="34.4" fill="rgba(8,153,129,0.5)"/>
<rect x="1067.3" y="795.7" width="2" height="48.8" fill="rgba(242,54,69,0.5)"/>
<rect x="1071.5" y="796.7" width="2" height="47.8" fill="rgba(242,54,69,0.5)"/>
<rect x="1075.7" y="827.9" width="2" height="16.6" fill="rgba(242,54,69,0.5)"/>
<rect x="1080" y="806.3" width="2" height="38.2" fill="rgba(8,153,129,0.5)"/>
<rect x="1084.2" y="815.8" width="2" height="28.7" fill="rgba(242,54,69,0.5)"/>
<rect x="1088.4" y="816.9" width="2" height="27.6" fill="rgba(8,153,129,0.5)"/>
<rect x="1092.6" y="818.8" width="2" height="25.7" fill="rgba(242,54,69,0.5)"/>
<rect x="1096.8" y="784" width="2" height="60.5" fill="rgba(8,153,129,0.5)"/>
<rect x="1101" y="791.2" width="2" height="53.3" fill="rgba(242,54,69,0.5)"/>
<rect x="1105.3" y="806.1" width="2" height="38.4" fill="rgba(8,153,129,0.5)"/>
<rect x="1109.5" y="747" width="2" height="97.5" fill="rgba(8,153,129,0.5)"/>
<rect x="1113.7" y="759" width="2" height="85.5" fill="rgba(8,153,129,0.5)"/>
<rect x="1117.9" y="775.9" width="2" height="68.6" fill="rgba(8,153,129,0.5)"/>
<rect x="1122.1" y="816.6" width="2" height="27.9" fill="rgba(242,54,69,0.5)"/>
<rect x="1126.4" y="826.9" width="2" height="17.6" fill="rgba(8,153,129,0.5)"/>
<rect x="1130.6" y="740" width="2" height="104.5" fill="rgba(8,153,129,0.5)"/>
<rect x="1134.8" y="733" width="2" height="111.5" fill="rgba(8,153,129,0.5)"/>
<rect x="1139" y="710" width="2" height="134.5" fill="rgba(242,54,69,0.5)"/>
<rect x="1143.2" y="792.9" width="2" height="51.6" fill="rgba(8,153,129,0.5)"/>
<rect x="1147.4" y="809.9" width="2" height="34.6" fill="rgba(8,153,129,0.5)"/>
<rect x="1151.7" y="791.6" width="2" height="52.9" fill="rgba(242,54,69,0.5)"/>
<rect x="1155.9" y="753.3" width="2" height="91.2" fill="rgba(242,54,69,0.5)"/>
<rect x="1160.1" y="738" width="2" height="106.5" fill="rgba(8,153,129,0.5)"/>
<rect x="1164.3" y="781.7" width="2" height="62.8" fill="rgba(242,54,69,0.5)"/>
<rect x="1168.5" y="736" width="2" height="108.5" fill="rgba(8,153,129,0.5)"/>
<rect x="1172.8" y="695" width="2" height="149.5" fill="rgba(242,54,69,0.5)"/>
<rect x="1177" y="737.8" width="2" height="106.7" fill="rgba(242,54,69,0.5)"/>
<rect x="1181.2" y="758" width="2" height="86.5" fill="rgba(242,54,69,0.5)"/>
<rect x="1185.4" y="781.1" width="2" height="63.4" fill="rgba(8,153,129,0.5)"/>
<rect x="1189.6" y="700" width="2" height="144.5" fill="rgba(242,54,69,0.5)"/>
<rect x="1193.8" y="682" width="2" height="162.5" fill="rgba(242,54,69,0.5)"/>
<rect x="1198.1" y="690" width="2" height="154.5" fill="rgba(242,54,69,0.5)"/>
<rect x="1202.3" y="688" width="2" height="156.5" fill="rgba(8,153,129,0.5)"/>
<rect x="1206.5" y="771.3" width="2" height="73.2" fill="rgba(242,54,69,0.5)"/>
<rect x="1210.7" y="795.6" width="2" height="48.9" fill="rgba(8,153,129,0.5)"/>
<rect x="1214.9" y="659" width="2" height="185.5" fill="rgba(8,153,129,0.5)"/>
<rect x="1219.2" y="707" width="2" height="137.5" fill="rgba(242,54,69,0.5)"/>
<rect x="1223.4" y="730.2" width="2" height="114.3" fill="rgba(242,54,69,0.5)"/>
<rect x="1227.6" y="743.6" width="2" height="100.9" fill="rgba(8,153,129,0.5)"/>
<rect x="1231.8" y="722.1" width="2" height="122.4" fill="rgba(242,54,69,0.5)"/>
<rect x="1236" y="751.4" width="2" height="93.1" fill="rgba(8,153,129,0.5)"/>
<rect x="1240.2" y="739.8" width="2" height="104.7" fill="rgba(242,54,69,0.5)"/>
<rect x="1244.5" y="777.2" width="2" height="67.3" fill="rgba(8,153,129,0.5)"/>
<rect x="1248.7" y="753.6" width="2" height="90.9" fill="rgba(8,153,129,0.5)"/>
<rect x="1252.9" y="761.3" width="2" height="83.2" fill="rgba(8,153,129,0.5)"/>
<rect x="1257.1" y="732.3" width="2" height="112.2" fill="rgba(242,54,69,0.5)"/>
<rect x="1261.3" y="712" width="2" height="132.5" fill="rgba(242,54,69,0.5)"/>
<rect x="1265.6" y="791.9" width="2" height="52.6" fill="rgba(242,54,69,0.5)"/>
<rect x="1269.8" y="785.4" width="2" height="59.1" fill="rgba(242,54,69,0.5)"/>
<rect x="1274" y="737.7" width="2" height="106.8" fill="rgba(8,153,129,0.5)"/>
<rect x="1278.2" y="744.7" width="2" height="99.8" fill="rgba(242,54,69,0.5)"/>
<rect x="1282.4" y="812.7" width="2" height="31.8" fill="rgba(242,54,69,0.5)"/>
<rect x="1286.6" y="770.9" width="2" height="73.6" fill="rgba(242,54,69,0.5)"/>
<rect x="1290.9" y="799.4" width="2" height="45.1" fill="rgba(8,153,129,0.5)"/>
<rect x="1295.1" y="800.6" width="2" height="43.9" fill="rgba(242,54,69,0.5)"/>
<rect x="1299.3" y="808.5" width="2" height="36" fill="rgba(242,54,69,0.5)"/>
<rect x="1303.5" y="787.7" width="2" height="56.8" fill="rgba(242,54,69,0.5)"/>
<rect x="1307.7" y="816.1" width="2" height="28.4" fill="rgba(8,153,129,0.5)"/>
<rect x="1311.9" y="793.4" width="2" height="51.1" fill="rgba(8,153,129,0.5)"/>
<rect x="1316.2" y="808.6" width="2" height="35.9" fill="rgba(242,54,69,0.5)"/>
<rect x="1320.4" y="786.2" width="2" height="58.3" fill="rgba(242,54,69,0.5)"/>
<rect x="1324.6" y="809.3" width="2" height="35.2" fill="rgba(242,54,69,0.5)"/>
<rect x="1328.8" y="800.7" width="2" height="43.8" fill="rgba(242,54,69,0.5)"/>
<rect x="1333" y="826.9" width="2" height="17.6" fill="rgba(242,54,69,0.5)"/>
<rect x="1337.3" y="811.9" width="2" height="32.6" fill="rgba(242,54,69,0.5)"/>
<rect x="1341.5" y="820.8" width="2" height="23.7" fill="rgba(242,54,69,0.5)"/>
<rect x="1345.7" y="819.5" width="2" height="25" fill="rgba(242,54,69,0.5)"/>
<rect x="1349.9" y="818" width="2" height="26.5" fill="rgba(242,54,69,0.5)"/>
<rect x="1354.1" y="807.9" width="2" height="36.6" fill="rgba(8,153,129,0.5)"/>
<rect x="1358.3" y="789" width="2" height="55.5" fill="rgba(242,54,69,0.5)"/>
<rect x="1362.6" y="826.9" width="2" height="17.6" fill="rgba(242,54,69,0.5)"/>
<rect x="1366.8" y="814.8" width="2" height="29.7" fill="rgba(8,153,129,0.5)"/>
<rect x="1371" y="801.5" width="2" height="43" fill="rgba(8,153,129,0.5)"/>
<rect x="1375.2" y="829.8" width="2" height="14.7" fill="rgba(242,54,69,0.5)"/>
<rect x="1379.4" y="818.4" width="2" height="26.1" fill="rgba(242,54,69,0.5)"/>
<rect x="1383.7" y="822.1" width="2" height="22.4" fill="rgba(8,153,129,0.5)"/>
<rect x="1387.9" y="806.1" width="2" height="38.4" fill="rgba(242,54,69,0.5)"/>
<rect x="1392.1" y="825.7" width="2" height="18.8" fill="rgba(8,153,129,0.5)"/>
<rect x="1396.3" y="819.1" width="2" height="25.4" fill="rgba(242,54,69,0.5)"/>
<rect x="1400.5" y="812.4" width="2" height="32.1" fill="rgba(242,54,69,0.5)"/>
<rect x="1404.7" y="798.9" width="2" height="45.6" fill="rgba(242,54,69,0.5)"/>
<rect x="1409" y="799.8" width="2" height="44.7" fill="rgba(8,153,129,0.5)"/>
<rect x="1413.2" y="803.5" width="2" height="41" fill="rgba(242,54,69,0.5)"/>
<rect x="1417.4" y="804.7" width="2" height="39.8" fill="rgba(242,54,69,0.5)"/>
<rect x="1421.6" y="824.6" width="2" height="19.9" fill="rgba(242,54,69,0.5)"/>
<rect x="1425.8" y="805" width="2" height="39.5" fill="rgba(242,54,69,0.5)"/>
<rect x="1430.1" y="823.2" width="2" height="21.3" fill="rgba(242,54,69,0.5)"/>
<rect x="1434.3" y="815.7" width="2" height="28.8" fill="rgba(242,54,69,0.5)"/>
<rect x="1438.5" y="825.3" width="2" height="19.2" fill="rgba(8,153,129,0.5)"/>
<rect x="1442.7" y="831.9" width="2" height="12.6" fill="rgba(242,54,69,0.5)"/>
<rect x="1446.9" y="812.3" width="2" height="32.2" fill="rgba(8,153,129,0.5)"/>
<rect x="1451.1" y="816.4" width="2" height="28.1" fill="rgba(242,54,69,0.5)"/>
<rect x="1455.4" y="816.9" width="2" height="27.6" fill="rgba(8,153,129,0.5)"/>
<rect x="1459.6" y="823" width="2" height="21.5" fill="rgba(242,54,69,0.5)"/>
<rect x="1463.8" y="823.2" width="2" height="21.3" fill="rgba(242,54,69,0.5)"/>
<rect x="1468" y="821.2" width="2" height="23.3" fill="rgba(8,153,129,0.5)"/>
<rect x="1472.2" y="792" width="2" height="52.5" fill="rgba(8,153,129,0.5)"/>
<rect x="1476.5" y="792" width="2" height="52.5" fill="rgba(242,54,69,0.5)"/>
<rect x="1480.7" y="820.1" width="2" height="24.4" fill="rgba(242,54,69,0.5)"/>
<rect x="1484.9" y="819.8" width="2" height="24.7" fill="rgba(242,54,69,0.5)"/>
<rect x="1489.1" y="828.4" width="2" height="16.1" fill="rgba(8,153,129,0.5)"/>
<rect x="1493.3" y="829.3" width="2" height="15.2" fill="rgba(242,54,69,0.5)"/>
<rect x="1497.5" y="819.5" width="2" height="25" fill="rgba(8,153,129,0.5)"/>
<rect x="1501.8" y="817.2" width="2" height="27.3" fill="rgba(242,54,69,0.5)"/>
<rect x="1506" y="810.4" width="2" height="34.1" fill="rgba(242,54,69,0.5)"/>
<rect x="1510.2" y="820" width="2" height="24.5" fill="rgba(242,54,69,0.5)"/>
<rect x="1514.4" y="820.3" width="2" height="24.2" fill="rgba(8,153,129,0.5)"/>
<rect x="1518.6" y="811" width="2" height="33.5" fill="rgba(242,54,69,0.5)"/>
<rect x="1522.8" y="823.5" width="2" height="21" fill="rgba(8,153,129,0.5)"/>
<rect x="1527.1" y="829.5" width="2" height="15" fill="rgba(8,153,129,0.5)"/>
<rect x="1531.3" y="815.3" width="2" height="29.2" fill="rgba(8,153,129,0.5)"/>
<rect x="1535.5" y="811.6" width="2" height="32.9" fill="rgba(242,54,69,0.5)"/>
<rect x="1539.7" y="814.3" width="2" height="30.2" fill="rgba(242,54,69,0.5)"/>
<rect x="1543.9" y="821" width="2" height="23.5" fill="rgba(8,153,129,0.5)"/>
<rect x="1548.2" y="827.3" width="2" height="17.2" fill="rgba(242,54,69,0.5)"/>
<rect x="1552.4" y="822.2" width="2" height="22.3" fill="rgba(8,153,129,0.5)"/>
<rect x="1556.6" y="814.2" width="2" height="30.3" fill="rgba(8,153,129,0.5)"/>
<rect x="1560.8" y="832.4" width="2" height="12.1" fill="rgba(242,54,69,0.5)"/>
<rect x="1565" y="820.3" width="2" height="24.2" fill="rgba(242,54,69,0.5)"/>
<rect x="1569.2" y="808.8" width="2" height="35.7" fill="rgba(242,54,69,0.5)"/>
<rect x="1573.5" y="812.4" width="2" height="32.1" fill="rgba(242,54,69,0.5)"/>
<rect x="1577.7" y="821.5" width="2" height="23" fill="rgba(8,153,129,0.5)"/>
<rect x="1581.9" y="818.2" width="2" height="26.3" fill="rgba(242,54,69,0.5)"/>
<rect x="1586.1" y="831.1" width="2" height="13.4" fill="rgba(242,54,69,0.5)"/>
<rect x="1590.3" y="825.3" width="2" height="19.2" fill="rgba(242,54,69,0.5)"/>
<rect x="1594.6" y="820.3" width="2" height="24.2" fill="rgba(8,153,129,0.5)"/>
<rect x="1598.8" y="817.1" width="2" height="27.4" fill="rgba(242,54,69,0.5)"/>
<rect x="1603" y="820" width="2" height="24.5" fill="rgba(242,54,69,0.5)"/>
<rect x="1607.2" y="820.7" width="2" height="23.8" fill="rgba(242,54,69,0.5)"/>
<rect x="1611.4" y="821.9" width="2" height="22.6" fill="rgba(242,54,69,0.5)"/>
<rect x="1615.6" y="828.8" width="2" height="15.7" fill="rgba(242,54,69,0.5)"/>
<rect x="1619.9" y="819.3" width="2" height="25.2" fill="rgba(242,54,69,0.5)"/>
<rect x="1624.1" y="830.7" width="2" height="13.8" fill="rgba(242,54,69,0.5)"/>
<rect x="1628.3" y="787" width="2" height="57.5" fill="rgba(242,54,69,0.5)"/>
<rect x="1632.5" y="828.9" width="2" height="15.6" fill="rgba(8,153,129,0.5)"/>
<rect x="1636.7" y="817.7" width="2" height="26.8" fill="rgba(242,54,69,0.5)"/>
<rect x="1641" y="815.1" width="2" height="29.4" fill="rgba(242,54,69,0.5)"/>
<rect x="1645.2" y="823.9" width="2" height="20.6" fill="rgba(242,54,69,0.5)"/>
<rect x="1649.4" y="794" width="2" height="50.5" fill="rgba(8,153,129,0.5)"/>
<rect x="1653.6" y="821.2" width="2" height="23.3" fill="rgba(242,54,69,0.5)"/>
<rect x="1657.8" y="817.1" width="2" height="27.4" fill="rgba(8,153,129,0.5)"/>
<rect x="1662" y="813.8" width="2" height="30.7" fill="rgba(8,153,129,0.5)"/>
<rect x="1666.3" y="831.3" width="2" height="13.2" fill="rgba(242,54,69,0.5)"/>
<rect x="1670.5" y="820.8" width="2" height="23.7" fill="rgba(8,153,129,0.5)"/>
<rect x="1674.7" y="829.3" width="2" height="15.2" fill="rgba(8,153,129,0.5)"/>
<rect x="1678.9" y="818.6" width="2" height="25.9" fill="rgba(8,153,129,0.5)"/>
<rect x="1683.1" y="811.6" width="2" height="32.9" fill="rgba(242,54,69,0.5)"/>
<rect x="1687.4" y="823.6" width="2" height="20.9" fill="rgba(242,54,69,0.5)"/>
<rect x="1691.6" y="809.6" width="2" height="34.9" fill="rgba(242,54,69,0.5)"/>
<rect x="1695.8" y="810.5" width="2" height="34" fill="rgba(8,153,129,0.5)"/>
<rect x="1700" y="811.5" width="2" height="33" fill="rgba(242,54,69,0.5)"/>
<rect x="1704.2" y="825.2" width="2" height="19.3" fill="rgba(8,153,129,0.5)"/>
<rect x="1708.4" y="725" width="2" height="119.5" fill="rgba(8,153,129,0.5)"/>
<rect x="1712.7" y="698.3" width="2" height="146.2" fill="rgba(8,153,129,0.5)"/>
<rect x="1716.9" y="781" width="2" height="63.5" fill="rgba(242,54,69,0.5)"/>
<rect x="1721.1" y="809.1" width="2" height="35.4" fill="rgba(242,54,69,0.5)"/>
<rect x="1725.3" y="797.6" width="2" height="46.9" fill="rgba(242,54,69,0.5)"/>
<rect x="1729.5" y="822.8" width="2" height="21.7" fill="rgba(8,153,129,0.5)"/>
<rect x="1733.8" y="816.9" width="2" height="27.6" fill="rgba(242,54,69,0.5)"/>
<rect x="1738" y="800" width="2" height="44.5" fill="rgba(8,153,129,0.5)"/>
<rect x="1742.2" y="795.8" width="2" height="48.7" fill="rgba(242,54,69,0.5)"/>
<rect x="1746.4" y="796.9" width="2" height="47.6" fill="rgba(8,153,129,0.5)"/>
<rect x="1750.6" y="812.8" width="2" height="31.7" fill="rgba(242,54,69,0.5)"/>
<rect x="1754.8" y="793.3" width="2" height="51.2" fill="rgba(242,54,69,0.5)"/>
<rect x="1759.1" y="812.4" width="2" height="32.1" fill="rgba(8,153,129,0.5)"/>
<rect x="1763.3" y="803.2" width="2" height="41.3" fill="rgba(242,54,69,0.5)"/>
<rect x="1767.5" y="821.2" width="2" height="23.3" fill="rgba(242,54,69,0.5)"/>
<rect x="1771.7" y="808.5" width="2" height="36" fill="rgba(242,54,69,0.5)"/>
<rect x="1775.9" y="777" width="2" height="67.5" fill="rgba(242,54,69,0.5)"/>
<rect x="1780.1" y="784.1" width="2" height="60.4" fill="rgba(242,54,69,0.5)"/>
<rect x="1784.4" y="823.3" width="2" height="21.2" fill="rgba(242,54,69,0.5)"/>
<rect x="1788.6" y="818" width="2" height="26.5" fill="rgba(8,153,129,0.5)"/>
<rect x="1792.8" y="755" width="2" height="89.5" fill="rgba(242,54,69,0.5)"/>
<rect x="1797" y="789.9" width="2" height="54.6" fill="rgba(242,54,69,0.5)"/>
<rect x="1801.2" y="787" width="2" height="57.5" fill="rgba(242,54,69,0.5)"/>
<rect x="1805.5" y="796.5" width="2" height="48" fill="rgba(242,54,69,0.5)"/>
<rect x="1809.7" y="813.7" width="2" height="30.8" fill="rgba(242,54,69,0.5)"/>
<rect x="1813.9" y="822" width="2" height="22.5" fill="rgba(8,153,129,0.5)"/>
<rect x="1818.1" y="811.7" width="2" height="32.8" fill="rgba(242,54,69,0.5)"/>
<rect x="1822.3" y="793.2" width="2" height="51.3" fill="rgba(242,54,69,0.5)"/>
<rect x="1826.5" y="794.2" width="2" height="50.3" fill="rgba(242,54,69,0.5)"/>
<rect x="1830.8" y="824" width="2" height="20.5" fill="rgba(242,54,69,0.5)"/>
<rect x="1835" y="815" width="2" height="29.5" fill="rgba(242,54,69,0.5)"/>
<rect x="1839.2" y="819.4" width="2" height="25.1" fill="rgba(8,153,129,0.5)"/>
<rect x="1843.4" y="808.3" width="2" height="36.2" fill="rgba(242,54,69,0.5)"/>
<rect x="1847.6" y="800.1" width="2" height="44.4" fill="rgba(242,54,69,0.5)"/>
<rect x="1851.9" y="812.3" width="2" height="32.2" fill="rgba(242,54,69,0.5)"/>
<rect x="1856.1" y="793" width="2" height="51.5" fill="rgba(242,54,69,0.5)"/>
<rect x="1860.3" y="827.4" width="2" height="17.1" fill="rgba(242,54,69,0.5)"/>
<rect x="1864.5" y="818.6" width="2" height="25.9" fill="rgba(242,54,69,0.5)"/>
<rect x="1868.7" y="804.2" width="2" height="40.3" fill="rgba(242,54,69,0.5)"/>
<rect x="1872.9" y="830.2" width="2" height="14.3" fill="rgba(242,54,69,0.5)"/>
<rect x="1877.2" y="804.9" width="2" height="39.6" fill="rgba(8,153,129,0.5)"/>
<rect x="1881.4" y="813.4" width="2" height="31.1" fill="rgba(8,153,129,0.5)"/>
<rect x="1885.6" y="821.4" width="2" height="23.1" fill="rgba(242,54,69,0.5)"/>
<rect x="1889.8" y="825.1" width="2" height="19.4" fill="rgba(8,153,129,0.5)"/>
<rect x="1894" y="809.5" width="2" height="35" fill="rgba(8,153,129,0.5)"/>
<rect x="1898.3" y="832.4" width="2" height="12.1" fill="rgba(242,54,69,0.5)"/>
<rect x="1902.5" y="827.1" width="2" height="17.4" fill="rgba(242,54,69,0.5)"/>
<rect x="1906.7" y="818.5" width="2" height="26" fill="rgba(242,54,69,0.5)"/>
<rect x="1910.9" y="812.4" width="2" height="32.1" fill="rgba(8,153,129,0.5)"/>
<rect x="1915.1" y="825.4" width="2" height="19.1" fill="rgba(8,153,129,0.5)"/>
<rect x="1919.3" y="811.4" width="2" height="33.1" fill="rgba(242,54,69,0.5)"/>
<rect x="1923.6" y="830.6" width="2" height="13.9" fill="rgba(242,54,69,0.5)"/>
<rect x="1927.8" y="812.4" width="2" height="32.1" fill="rgba(242,54,69,0.5)"/>
<rect x="1932" y="831.9" width="2" height="12.6" fill="rgba(242,54,69,0.5)"/>
<rect x="1936.2" y="816.4" width="2" height="28.1" fill="rgba(8,153,129,0.5)"/>
<rect x="1940.4" y="830.5" width="2" height="14" fill="rgba(8,153,129,0.5)"/>
<rect x="1944.6" y="813" width="2" height="31.5" fill="rgba(242,54,69,0.5)"/>
<rect x="1948.9" y="831.2" width="2" height="13.3" fill="rgba(242,54,69,0.5)"/>
<rect x="1953.1" y="831.1" width="2" height="13.4" fill="rgba(242,54,69,0.5)"/>
<rect x="1957.3" y="827.1" width="2" height="17.4" fill="rgba(242,54,69,0.5)"/>
<rect x="1961.5" y="829.9" width="2" height="14.6" fill="rgba(242,54,69,0.5)"/>
<rect x="1965.7" y="833.7" width="2" height="10.8" fill="rgba(8,153,129,0.5)"/>
<rect x="1970" y="822.1" width="2" height="22.4" fill="rgba(8,153,129,0.5)"/>
<rect x="1974.2" y="835" width="2" height="9.5" fill="rgba(8,153,129,0.5)"/>
<rect x="1978.4" y="832.3" width="2" height="12.2" fill="rgba(242,54,69,0.5)"/>
<rect x="1982.6" y="828.4" width="2" height="16.1" fill="rgba(242,54,69,0.5)"/>
<rect x="1986.8" y="831.8" width="2" height="12.7" fill="rgba(242,54,69,0.5)"/>
<rect x="1991" y="821" width="2" height="23.5" fill="rgba(8,153,129,0.5)"/>
<rect x="1995.3" y="822.7" width="2" height="21.8" fill="rgba(242,54,69,0.5)"/>
<rect x="1999.5" y="786" width="2" height="58.5" fill="rgba(242,54,69,0.5)"/>
<rect x="2003.7" y="827.7" width="2" height="16.8" fill="rgba(8,153,129,0.5)"/>
<rect x="2007.9" y="719" width="2" height="125.5" fill="rgba(242,54,69,0.5)"/>
<rect x="2012.1" y="810.2" width="2" height="34.3" fill="rgba(242,54,69,0.5)"/>
<rect x="2016.4" y="817.1" width="2" height="27.4" fill="rgba(242,54,69,0.5)"/>
<rect x="2020.6" y="776" width="2" height="68.5" fill="rgba(242,54,69,0.5)"/>
<rect x="2024.8" y="754" width="2" height="90.5" fill="rgba(242,54,69,0.5)"/>
<rect x="2029" y="780" width="2" height="64.5" fill="rgba(242,54,69,0.5)"/>
<rect x="2033.2" y="773" width="2" height="71.5" fill="rgba(242,54,69,0.5)"/>
<rect x="2037.4" y="819.5" width="2" height="25" fill="rgba(8,153,129,0.5)"/>
<rect x="2041.7" y="789" width="2" height="55.5" fill="rgba(242,54,69,0.5)"/>
<rect x="2045.9" y="796.3" width="2" height="48.2" fill="rgba(242,54,69,0.5)"/>
<rect x="2050.1" y="745" width="2" height="99.5" fill="rgba(242,54,69,0.5)"/>
<rect x="2054.3" y="837.5" width="2" height="7" fill="rgba(8,153,129,0.5)"/>
<polygon fill="rgba(156,39,176,0.5)" points="0,844.5 0,837.7 46.5,837.2 86,835.8 116.2,837.2 185.9,836.5 197.5,835.4 239.3,834.2 246.3,831.2 278.8,829.6 288,826 299.7,820.3 320.6,818 334.6,821 357.8,819.1 371.8,820.3 381,827.2 395,830.7 413.6,831.9 418.2,828.4 441.4,829.6 464.7,831.2 474,829.6 485.6,813.3 494.9,811 499.5,807.5 504.2,810.3 515,797.7 530,785.2 545,772.7 552.5,769.7 561.3,770.2 567.6,782.7 570,785.2 575,778.9 585,777.2 595,780.2 612.6,796.4 627.6,805.2 652.7,807.7 665.2,817.7 690.2,822.7 700.2,822.2 705.2,824 725.2,824 750.3,818.2 755.3,814 775.3,812.2 800.3,812.2 835.3,810.2 840.3,812.7 860.4,810.2 875.4,802.7 900.4,796.4 907.9,792.7 915.4,780.2 930.4,772.7 945.4,765.2 963,767.2 980.5,770.2 990.5,776.4 1000.5,794 1015.5,805.2 1030.5,810.2 1040.5,810.2 1046.3,805.7 1065,804.7 1077.5,801.4 1090,796.4 1102.6,792.7 1107.6,794 1112.6,789 1122.6,786.4 1127.6,784 1132.6,786.4 1140,776.4 1152.6,771.4 1162.6,764.7 1170,761.4 1175,757.1 1181.4,753.9 1185.1,756.4 1190.2,751.4 1202.7,740.1 1212.7,746.4 1220.2,741.4 1230.2,741.4 1240.2,745.1 1252.7,747.6 1257.7,751.4 1260.2,748.9 1270.2,748.9 1280.2,762.7 1287.7,772.7 1295.3,773.9 1305.3,787.7 1315.3,795.2 1325.3,796.4 1337.8,802.7 1345.3,810.2 1365.3,809 1390.3,807.7 1405.4,806.4 1415.4,808.2 1430.4,810.2 1450.4,816.5 1477.9,815.2 1490.4,815.2 1515.5,816.5 1540.5,817.2 1565.5,820.2 1578,821.5 1612.5,820.3 1628.8,816.3 1649.7,814.9 1672.9,814.5 1696.2,815.6 1705.5,816.8 1714.8,807.5 1724,805.6 1742.6,804 1756.6,801.7 1770.5,798.2 1777.5,794.7 1789,792.9 1793.7,794.7 1798.4,799.4 1817,800.5 1831,803.3 1840.2,802.8 1854.2,806.3 1872.7,809.4 1879.7,812.1 1886.7,814.5 1905.3,816.3 1923.9,820.3 1935.5,821 1947,823.8 1961,824.9 1975,824.9 1995.9,823.3 2005.2,819.1 2009.8,813.3 2021.4,808.7 2033,799.4 2044.7,795.9 2051.7,792.4 2056.3,793.5 2056.3,844.5"/>
<path fill="none" stroke="#b457c6" stroke-width="2" d="M0 837.7C7.8 837.6 32.2 837.5 46.5 837.2C60.8 836.9 74.4 835.8 86 835.8C97.6 835.8 99.5 837.1 116.2 837.2C132.8 837.3 172.3 836.8 185.9 836.5C199.5 836.2 188.6 835.8 197.5 835.4C206.4 835 231.2 834.9 239.3 834.2C247.4 833.5 239.7 832 246.3 831.2C252.9 830.4 271.9 830.5 278.8 829.6C285.8 828.7 284.5 827.5 288 826C291.5 824.5 294.3 821.6 299.7 820.3C305.1 819 314.8 817.9 320.6 818C326.4 818.1 328.4 820.8 334.6 821C340.8 821.2 351.6 819.2 357.8 819.1C364 819 367.9 818.9 371.8 820.3C375.7 821.6 377.1 825.5 381 827.2C384.9 828.9 389.6 829.9 395 830.7C400.4 831.5 409.7 832.3 413.6 831.9C417.5 831.5 413.6 828.8 418.2 828.4C422.8 828 433.6 829.1 441.4 829.6C449.1 830.1 459.3 831.2 464.7 831.2C470.1 831.2 470.5 832.6 474 829.6C477.5 826.6 482.1 816.4 485.6 813.3C489.1 810.2 492.6 812 494.9 811C497.2 810 497.9 807.6 499.5 807.5C501.1 807.4 501.6 811.9 504.2 810.3C506.8 808.7 510.7 801.9 515 797.7C519.3 793.5 525 789.4 530 785.2C535 781 541.2 775.3 545 772.7C548.8 770.1 549.8 770.1 552.5 769.7C555.2 769.3 558.8 768 561.3 770.2C563.8 772.4 566.1 780.2 567.6 782.7C569.1 785.2 568.8 785.8 570 785.2C571.2 784.6 572.5 780.2 575 778.9C577.5 777.6 581.7 777 585 777.2C588.3 777.4 590.4 777 595 780.2C599.6 783.4 607.2 792.2 612.6 796.4C618 800.6 620.9 803.3 627.6 805.2C634.3 807.1 646.4 805.6 652.7 807.7C659 809.8 659 815.2 665.2 817.7C671.5 820.2 684.4 822 690.2 822.7C696 823.5 697.7 822 700.2 822.2C702.7 822.4 701 823.7 705.2 824C709.4 824.3 717.7 825 725.2 824C732.7 823 745.3 819.9 750.3 818.2C755.3 816.5 751.1 815 755.3 814C759.5 813 767.8 812.5 775.3 812.2C782.8 811.9 790.3 812.5 800.3 812.2C810.3 811.9 828.6 810.1 835.3 810.2C842 810.3 836.1 812.7 840.3 812.7C844.5 812.7 854.5 811.9 860.4 810.2C866.2 808.5 868.7 805 875.4 802.7C882.1 800.4 895 798.1 900.4 796.4C905.8 794.7 905.4 795.4 907.9 792.7C910.4 790 911.6 783.5 915.4 780.2C919.1 776.9 925.4 775.2 930.4 772.7C935.4 770.2 940 766.1 945.4 765.2C950.8 764.3 957.1 766.4 963 767.2C968.9 768 975.9 768.7 980.5 770.2C985.1 771.7 987.2 772.4 990.5 776.4C993.8 780.4 996.3 789.2 1000.5 794C1004.7 798.8 1010.5 802.5 1015.5 805.2C1020.5 807.9 1026.3 809.4 1030.5 810.2C1034.7 811 1037.9 811 1040.5 810.2C1043.1 809.5 1042.2 806.6 1046.3 805.7C1050.4 804.8 1059.8 805.4 1065 804.7C1070.2 804 1073.3 802.8 1077.5 801.4C1081.7 800 1085.8 797.8 1090 796.4C1094.2 795 1099.7 793.1 1102.6 792.7C1105.5 792.3 1105.9 794.6 1107.6 794C1109.3 793.4 1110.1 790.3 1112.6 789C1115.1 787.7 1120.1 787.2 1122.6 786.4C1125.1 785.6 1125.9 784 1127.6 784C1129.3 784 1130.5 787.7 1132.6 786.4C1134.7 785.1 1136.7 778.9 1140 776.4C1143.3 773.9 1148.8 773.3 1152.6 771.4C1156.4 769.5 1159.7 766.4 1162.6 764.7C1165.5 763 1167.9 762.7 1170 761.4C1172.1 760.1 1173.1 758.4 1175 757.1C1176.9 755.9 1179.7 754 1181.4 753.9C1183.1 753.8 1183.6 756.8 1185.1 756.4C1186.6 756 1187.3 754.1 1190.2 751.4C1193.1 748.7 1199 740.9 1202.7 740.1C1206.5 739.3 1209.8 746.2 1212.7 746.4C1215.6 746.6 1217.3 742.2 1220.2 741.4C1223.1 740.6 1226.9 740.8 1230.2 741.4C1233.5 742 1236.5 744.1 1240.2 745.1C1244 746.1 1249.8 746.6 1252.7 747.6C1255.6 748.6 1256.5 751.2 1257.7 751.4C1259 751.6 1258.1 749.3 1260.2 748.9C1262.3 748.5 1266.9 746.6 1270.2 748.9C1273.5 751.2 1277.3 758.7 1280.2 762.7C1283.1 766.7 1285.2 770.8 1287.7 772.7C1290.2 774.6 1292.4 771.4 1295.3 773.9C1298.2 776.4 1302 784.2 1305.3 787.7C1308.6 791.2 1312 793.8 1315.3 795.2C1318.6 796.7 1321.5 795.1 1325.3 796.4C1329 797.6 1334.5 800.4 1337.8 802.7C1341.1 805 1340.7 809.2 1345.3 810.2C1349.9 811.2 1357.8 809.4 1365.3 809C1372.8 808.6 1383.6 808.1 1390.3 807.7C1397 807.3 1401.2 806.3 1405.4 806.4C1409.6 806.5 1411.2 807.6 1415.4 808.2C1419.6 808.8 1424.6 808.8 1430.4 810.2C1436.2 811.6 1442.5 815.7 1450.4 816.5C1458.3 817.3 1471.2 815.4 1477.9 815.2C1484.6 815 1484.1 815 1490.4 815.2C1496.7 815.4 1507.2 816.2 1515.5 816.5C1523.8 816.8 1532.2 816.6 1540.5 817.2C1548.8 817.8 1559.2 819.5 1565.5 820.2C1571.8 820.9 1570.2 821.5 1578 821.5C1585.8 821.5 1604 821.2 1612.5 820.3C1621 819.4 1622.6 817.2 1628.8 816.3C1635 815.4 1642.3 815.2 1649.7 814.9C1657.1 814.6 1665.2 814.4 1672.9 814.5C1680.7 814.6 1690.8 815.2 1696.2 815.6C1701.6 816 1702.4 818.1 1705.5 816.8C1708.6 815.4 1711.7 809.4 1714.8 807.5C1717.9 805.6 1719.4 806.2 1724 805.6C1728.6 805 1737.2 804.6 1742.6 804C1748 803.4 1751.9 802.7 1756.6 801.7C1761.2 800.7 1767 799.4 1770.5 798.2C1774 797 1774.4 795.6 1777.5 794.7C1780.6 793.8 1786.3 792.9 1789 792.9C1791.7 792.9 1792.1 793.6 1793.7 794.7C1795.3 795.8 1794.5 798.4 1798.4 799.4C1802.3 800.4 1811.6 799.9 1817 800.5C1822.4 801.1 1827.1 802.9 1831 803.3C1834.9 803.7 1836.3 802.3 1840.2 802.8C1844.1 803.3 1848.8 805.2 1854.2 806.3C1859.6 807.4 1868.5 808.4 1872.7 809.4C1877 810.4 1877.4 811.2 1879.7 812.1C1882 813 1882.4 813.8 1886.7 814.5C1891 815.2 1899.1 815.3 1905.3 816.3C1911.5 817.3 1918.9 819.5 1923.9 820.3C1928.9 821.1 1931.7 820.4 1935.5 821C1939.3 821.6 1942.8 823.1 1947 823.8C1951.2 824.4 1956.3 824.7 1961 824.9C1965.7 825.1 1969.2 825.2 1975 824.9C1980.8 824.6 1990.9 824.3 1995.9 823.3C2000.9 822.3 2002.9 820.8 2005.2 819.1C2007.5 817.4 2007.1 815 2009.8 813.3C2012.5 811.6 2017.5 811 2021.4 808.7C2025.3 806.4 2029.1 801.5 2033 799.4C2036.9 797.3 2041.6 797.1 2044.7 795.9C2047.8 794.7 2049.8 792.8 2051.7 792.4C2053.6 792 2055.5 793.3 2056.3 793.5"/>
<rect x="277" y="413" width="1796" height="14.5" fill="rgba(156,39,176,0.5)" stroke="#8e1ea8" stroke-width="2.2"/>
<rect x="1629" y="523" width="444" height="12" fill="rgba(156,39,176,0.5)" stroke="#8e1ea8" stroke-width="2.2"/>
<path fill="none" stroke="#2196f3" stroke-width="2.2" d="M0 447.6C3.3 449.6 14.2 454.9 19.8 459.5C25.4 464.1 29.7 471.4 33.7 475.3C37.7 479.2 39.3 480.6 43.6 483.2C47.9 485.8 51.6 485.7 59.5 491.2C67.4 496.7 80.8 508.9 91 516C101.2 523 111 528.8 121 533.5C131 538.2 143.1 540.9 151 544C158.9 547.1 163.2 550.5 168.6 552C174 553.5 179.4 553.2 183.7 553C188 552.8 189.1 553 194.5 551C199.9 549 210.2 544.3 216 541C221.8 537.7 223.6 534.8 229 531C234.4 527.2 240.9 523.2 248.5 518C256.1 512.8 267.1 506.5 274.5 500C281.9 493.5 287.8 484.4 292.6 479C297.4 473.6 299.5 471.7 303.4 467.4C307.3 463.1 312.1 457.5 316 453C319.9 448.5 322.9 444.6 326.8 440.4C330.7 436.2 335 431.6 339.5 427.7C344 423.8 349.1 419.1 353.9 416.9C358.7 414.6 363.8 415.7 368.3 414.2C372.8 412.7 375.8 410.4 380.9 407.9C386 405.3 393.5 400.7 398.9 398.9C404.3 397.1 409.1 398.2 413.3 397.1C417.5 396.1 420.8 393.7 424.1 392.6C427.4 391.6 430.2 391 433.2 390.8C436.2 390.6 437.7 391.1 442.2 391.4C446.7 391.7 454.8 391.7 460.2 392.6C465.6 393.6 470.1 395.8 474.6 397.1C479.1 398.5 482.1 399.5 487.2 400.7C492.3 401.9 499.5 404.6 505.2 404.3C510.9 404 515.7 402.5 521.4 398.9C527.1 395.3 533.8 386.6 539.5 382.7C545.2 378.8 550.9 377.9 555.7 375.5C560.5 373.1 563.7 371.7 568.3 368.3C572.9 364.9 578.7 358.3 583.5 354.9C588.3 351.5 592.5 350 597 348.1C601.5 346.2 606.8 344.8 610.5 343.6C614.2 342.4 615.8 341.3 619.5 340.9C623.2 340.4 628.5 340.5 633 340.9C637.5 341.3 641.3 342.6 646.6 343.2C651.9 343.8 659.4 343.9 664.6 344.7C669.8 345.4 673.5 346.6 678 347.7C682.5 348.8 686.3 349.2 691.6 351.5C696.9 353.8 704.4 358.4 709.6 361.6C714.8 364.8 718.5 367.6 723 370.6C727.5 373.6 732.2 377.5 736.7 379.6C741.2 381.7 745.7 381.3 750.2 383C754.7 384.7 759.2 387.7 763.7 389.8C768.2 391.9 772.7 393.7 777.2 395.4C781.7 397.1 786.2 398.6 790.7 399.9C795.2 401.2 799.7 402 804.2 403.3C808.7 404.6 813.6 406.8 817.7 407.8C821.8 408.8 825.2 409.3 829 409.4C832.8 409.5 836.2 408.8 840.3 408.5C844.4 408.2 850.5 407.8 853.8 407.8C857.1 407.8 856 409 860 408.7C864 408.4 872 406.8 878 406C884 405.2 891.2 405.2 896 404.2C900.8 403.1 902.9 401.9 906.8 399.7C910.7 397.4 915.3 393.4 919.5 390.7C923.7 388 927.8 385.3 932 383.5C936.2 381.7 941.1 380.9 944.7 380C948.3 379.1 951 378 953.7 378C956.4 378 957.4 379.1 961 380C964.6 380.9 971.1 382.2 975.3 383.5C979.5 384.8 981.8 386.4 986 388C990.2 389.6 995.7 391.7 1000.5 393.4C1005.3 395.1 1010.8 396.9 1015 398C1019.2 399.1 1021.6 399.6 1025.8 399.7C1030 399.8 1035.2 399.4 1040 398.8C1044.8 398.2 1049.8 396.9 1054.6 396C1059.4 395.1 1065.4 393.7 1069 393.4C1072.6 393.1 1073.2 394.9 1076.2 394.3C1079.2 393.7 1083.4 391.3 1087 389.8C1090.6 388.3 1094.2 386.8 1097.8 385.3C1101.4 383.8 1105 383.4 1108.6 380.8C1112.2 378.2 1115.6 373.9 1119.5 370C1123.4 366.1 1127.8 362.3 1132 357.4C1136.2 352.4 1141.5 344.9 1144.7 340.3C1148 335.7 1147.5 335 1151.5 330C1155.5 325 1163.3 316.5 1168.6 310.2C1173.8 303.9 1178.5 298.2 1183 292.2C1187.5 286.2 1192.4 278.3 1195.7 274.1C1199 269.9 1199.6 269.1 1202.9 267C1206.2 264.9 1211.3 262 1215.5 261.5C1219.7 261 1222.9 263.6 1228 264.2C1233.1 264.8 1240.3 264.9 1246 264.8C1251.7 264.7 1256.9 263.4 1262.3 263.3C1267.7 263.2 1273.5 263.9 1278.6 264.2C1283.7 264.5 1288.2 264.4 1293 265C1297.8 265.6 1302.6 267.3 1307.4 267.8C1312.2 268.3 1317.6 267.5 1321.8 267.8C1326 268.1 1327.8 267.7 1332.6 269.6C1337.4 271.6 1344.6 276.6 1350.6 279.5C1356.6 282.4 1363.2 284.4 1368.6 286.8C1374 289.2 1377.8 291.6 1383 294C1388.2 296.4 1394.9 298.5 1400 301C1405.1 303.5 1409 306.7 1413.5 309C1418 311.3 1422.5 312.4 1427 314.6C1431.5 316.9 1436 319.7 1440.5 322.5C1445 325.3 1449.5 329.2 1454 331.5C1458.5 333.8 1463.1 334.5 1467.6 336C1472.1 337.5 1476.1 339 1481 340.5C1485.9 342 1491.5 343.5 1496.8 345C1502.1 346.5 1507 347.8 1512.6 349.5C1518.2 351.2 1524.6 353.3 1530.6 355.2C1536.6 357.1 1543.4 359.3 1548.6 360.8C1553.8 362.3 1557.5 362.5 1562 364.2C1566.5 365.9 1571.2 368.8 1575.7 371C1580.2 373.2 1584.5 375.3 1589 377.7C1593.5 380.1 1598.2 383.2 1602.7 385.6C1607.2 388 1612.5 390.4 1616.2 392.3C1620 394.2 1621.8 394.4 1625.2 396.8C1628.6 399.2 1632.8 404 1636.5 407C1640.2 410 1643.6 412.5 1647.7 414.9C1651.8 417.3 1656.8 419.5 1661.3 421.6C1665.8 423.7 1670.3 425.4 1674.8 427.3C1679.3 429.2 1684 431.4 1688.3 432.9C1692.6 434.4 1696.9 435.3 1700.8 436.5C1704.7 437.7 1707.1 439.1 1711.6 439.9C1716.1 440.7 1722.4 441.1 1727.8 441.2C1733.2 441.3 1738.6 440.8 1744 440.5C1749.4 440.2 1755.3 439.2 1760.3 439.2C1765.3 439.2 1769.8 440.2 1773.8 440.5C1777.8 440.8 1781 441.2 1784.6 441.2C1788.2 441.2 1790.9 440.2 1795.4 440.5C1799.9 440.8 1806.6 442.3 1811.6 443.2C1816.5 444.1 1820.6 445.2 1825.1 446C1829.6 446.8 1834.1 447.3 1838.6 448C1843.1 448.7 1848.6 449.2 1852.2 450C1855.8 450.8 1857.2 451.3 1860.3 452.7C1863.4 454.1 1867.7 456.7 1871 458.1C1874.3 459.5 1877.3 460.2 1880 461.3C1882.7 462.4 1884.3 463.7 1887.2 464.9C1890.1 466.1 1893.7 467.3 1897.3 468.5C1900.9 469.7 1904.5 470.9 1908.8 472.1C1913.1 473.3 1918.5 474.5 1923.3 475.7C1928.1 476.9 1932.9 478.1 1937.7 479.3C1942.5 480.5 1947.9 481.7 1952 482.9C1956.1 484.1 1958.8 485.6 1962.2 486.5C1965.6 487.4 1968.7 487.7 1972.3 488.2C1975.9 488.7 1980.4 489 1983.8 489.4C1987.2 489.8 1989.8 490.1 1992.5 490.5C1995.2 490.9 1997.3 491.9 1999.7 491.6C2002.1 491.3 2004.3 489.8 2006.9 488.7C2009.5 487.6 2012.6 485.9 2015.5 485C2018.4 484.1 2021.3 483.4 2024.2 483.3C2027.1 483.2 2029.9 484 2032.8 484.3C2035.7 484.6 2038.8 485 2041.5 485.4C2044.2 485.8 2046.8 486 2048.7 486.5C2050.6 487 2051.7 487.5 2053 488.2C2054.3 488.9 2056 490.4 2056.6 490.8"/>
<path fill="none" stroke="#f23645" stroke-width="2.2" d="M0 460C1.8 460.3 7.2 460.2 10.8 462C14.4 463.8 16.9 464.5 21.6 471C26.3 477.5 33.1 492 38.9 501C44.7 510 50.8 517.8 56.2 525C61.6 532.2 66.2 537.5 71.3 544C76.3 550.5 81.8 558.3 86.5 564C91.2 569.7 94.4 575.2 99.4 578C104.4 580.8 110.2 579.6 116.7 581C123.2 582.4 130.4 585.4 138.3 586.5C146.2 587.6 158.5 587.8 164.3 587.6C170.1 587.4 169 586.8 172.9 585.4C176.8 584 182.6 582.6 188 579C193.4 575.4 199.2 570.8 205.3 564C211.4 557.2 218 548.2 224.8 538C231.7 527.8 238.9 514.2 246.4 503C253.9 491.8 264.4 478.9 270 471C275.6 463.1 276.4 460.6 280 455.7C283.6 450.8 287.8 446.9 291.7 441.3C295.6 435.7 298.1 431.5 303.4 422.3C308.6 413.1 319 393.1 323.2 386.3C327.4 379.6 325.9 384.8 328.6 381.8C331.3 378.8 336.8 371.2 339.5 368.3C342.2 365.4 342.8 366.5 344.9 364.7C347 362.9 348.5 358.9 352.1 357.5C355.7 356.1 362.9 357.1 366.5 356.6C370.1 356.2 371.3 354.7 373.7 354.8C376.1 354.9 377.9 356.6 380.9 357.5C383.9 358.4 388.1 359.3 391.7 360.2C395.3 361.1 398.3 361.8 402.5 362.9C406.7 363.9 411.8 365.4 416.9 366.5C422 367.6 427.8 368.7 433.2 369.2C438.6 369.7 445.5 369.2 449.4 369.5C453.3 369.8 453.9 369.7 456.6 371C459.3 372.3 462 374.4 465.6 377.3C469.2 380.2 474 384.8 478.2 388.1C482.4 391.4 486.6 394.1 490.8 397.1C495 400.1 500.1 404 503.4 406.1C506.7 408.2 507.9 409.7 510.6 409.7C513.3 409.7 516 408.2 519.6 406.1C523.2 404 527.8 401.3 532.3 397.1C536.8 392.9 541.9 386.6 546.7 380.9C551.5 375.2 557.2 368 561.1 362.9C565 357.8 567 355.1 570 350.4C573 345.7 576 339.9 579 334.6C582 329.3 584.2 323.1 588 318.8C591.8 314.5 597 310.6 601.5 308.7C606 306.8 611.2 307.4 615 307.6C618.8 307.8 621 309.6 624 309.8C627 310 629.2 308.1 633 308.7C636.8 309.3 642.8 311.3 646.6 313.2C650.4 315.1 651.9 316.8 655.6 320C659.3 323.2 664.5 328 669 332.3C673.5 336.6 678.1 341 682.6 345.9C687.1 350.8 691.5 356.8 696 361.6C700.5 366.5 705.1 370.5 709.6 375C714.1 379.5 718.5 384.1 723 388.6C727.5 393.1 732.9 399.2 736.7 402.2C740.5 405.2 742.7 404.1 745.7 406.7C748.7 409.3 751 414.2 754.7 418C758.4 421.8 764.2 426.2 768 429.2C771.8 432.2 773.4 434.5 777.2 436C781 437.5 786.2 438.4 790.7 438.2C795.2 438 800.5 435.9 804.2 434.8C808 433.7 809.8 431.8 813.2 431.4C816.6 431 820.8 432 824.5 432.6C828.2 433.2 832 435.4 835.7 434.8C839.5 434.2 843 431.2 847 429.2C851 427.2 854.8 425.5 860 423C865.2 420.5 872 416.7 878 414C884 411.3 891.2 409.4 896 407C900.8 404.6 903.2 403.3 906.8 399.7C910.4 396.1 913.5 389.8 917.7 385.3C921.9 380.8 927.2 376 932 372.7C936.8 369.4 942.3 367.2 946.5 365.5C950.7 363.8 953.1 362.8 957.3 362.3C961.5 361.9 966.9 362 971.7 362.8C976.5 363.6 981.8 364.8 986 367.3C990.2 369.8 993.4 373.8 997 378C1000.6 382.2 1004.1 388.3 1007.7 392.5C1011.3 396.7 1015 399.7 1018.6 403.3C1022.2 406.9 1025.8 411.6 1029.4 414C1033 416.4 1036.4 417.7 1040 417.7C1043.6 417.7 1047.4 415.5 1051 414C1054.6 412.5 1058.2 410.8 1061.8 408.7C1065.4 406.6 1069.1 403.6 1072.7 401.5C1076.3 399.4 1079.8 398.7 1083.4 396C1087 393.3 1090 389.5 1094.2 385.3C1098.4 381.1 1104.4 376.7 1108.6 371C1112.8 365.3 1115.9 356.8 1119.5 351C1123.1 345.2 1126.3 342.2 1130.3 336C1134.3 329.8 1139.7 320.5 1143.4 313.8C1147.1 307.1 1148.8 303 1152.4 295.8C1156 288.6 1160.5 279.5 1165 270.5C1169.5 261.5 1175 249.8 1179.5 241.7C1184 233.6 1188.4 228.2 1192 221.9C1195.6 215.6 1197.4 208.2 1201 203.9C1204.6 199.6 1209.2 195.5 1213.7 195.8C1218.2 196.1 1222.6 202.2 1228 205.7C1233.4 209.1 1241.2 213.2 1246 216.5C1250.8 219.8 1253.4 222.2 1257 225.5C1260.6 228.8 1264.1 232.7 1267.7 236.3C1271.3 239.9 1275 243.5 1278.6 247.1C1282.2 250.7 1285.8 255 1289.4 258C1293 261 1296.6 264 1300.2 265C1303.8 266 1307.4 263.9 1311 264.2C1314.6 264.5 1318.2 266.2 1321.8 267C1325.4 267.8 1329.3 266.9 1332.6 268.7C1335.9 270.5 1338.3 274.4 1341.6 277.7C1344.9 281 1348.8 285.6 1352.4 288.6C1356 291.6 1359.9 293.7 1363.2 295.8C1366.5 297.9 1369 299.1 1372.3 301.2C1375.6 303.3 1379.4 306 1383 308.4C1386.6 310.8 1391.1 313.2 1393.9 315.6C1396.7 318 1397.1 319.5 1400 322.5C1402.9 325.5 1407.5 330.6 1411.3 333.8C1415 337 1418.4 339.3 1422.5 341.7C1426.6 344.1 1432.2 346 1436 348.4C1439.8 350.8 1441.6 353.7 1445 356.3C1448.4 358.9 1452.5 362.1 1456.3 364.2C1460.1 366.3 1463.8 367.2 1467.6 368.7C1471.3 370.2 1475.1 371.9 1478.8 373.2C1482.5 374.5 1486.2 375.5 1490 376.6C1493.8 377.7 1497.6 379.1 1501.4 380C1505.2 380.9 1508.5 381.8 1512.6 382.2C1516.7 382.6 1522.3 382.9 1526 382.2C1529.7 381.4 1531.2 378.1 1535 377.7C1538.8 377.3 1544.8 379.2 1548.6 380C1552.4 380.8 1554.7 381.1 1557.7 382.2C1560.7 383.3 1563 385 1566.7 386.7C1570.5 388.4 1575.7 390.2 1580.2 392.3C1584.7 394.4 1589.2 396.4 1593.7 399C1598.2 401.6 1603.1 404.6 1607.2 408C1611.3 411.4 1615.1 416 1618.5 419.4C1621.9 422.8 1624.5 425 1627.5 428.4C1630.5 431.8 1633.1 435.1 1636.5 439.6C1639.9 444.1 1644.3 451.6 1647.7 455.4C1651.1 459.2 1653 460.3 1656.8 462.2C1660.6 464.1 1665.8 464.8 1670.3 466.7C1674.8 468.6 1678.4 470.9 1683.8 473.4C1689.2 475.9 1698.2 481.1 1702.8 481.8C1707.4 482.5 1709.2 479.2 1711.6 477.7C1714 476.2 1713.8 475.1 1717 473C1720.2 470.9 1726 467 1730.5 464.9C1735 462.8 1739.5 461.7 1744 460.1C1748.5 458.5 1753.1 457.1 1757.6 455.4C1762.1 453.7 1766.5 451.8 1771 450C1775.5 448.2 1780.8 446 1784.6 444.6C1788.4 443.2 1790.6 442.3 1794 441.9C1797.4 441.4 1800.8 441.6 1804.9 441.9C1809 442.2 1813.9 442.5 1818.4 443.9C1822.9 445.2 1827.4 448.3 1831.9 450C1836.4 451.7 1841.6 452.9 1845.4 454C1849.2 455.1 1851.5 455 1854.9 456.8C1858.3 458.6 1862.1 462.1 1865.7 464.9C1869.3 467.7 1873.2 471.3 1876.5 473.6C1879.8 475.9 1882.8 477.1 1885.8 478.6C1888.8 480.2 1891.5 481.5 1894.4 482.9C1897.3 484.3 1899.9 485.5 1903 487.2C1906.1 488.9 1909.8 491.2 1913.2 493C1916.6 494.8 1920.2 496.7 1923.3 498C1926.4 499.3 1928.8 500 1931.9 501C1935 502 1938.7 502.9 1942 503.8C1945.3 504.8 1948.9 505.9 1952 506.7C1955.1 507.5 1958.3 508.4 1960.7 508.9C1963.1 509.4 1964.3 509.9 1966.5 509.6C1968.7 509.4 1971.3 508 1973.7 507.4C1976.1 506.8 1978.3 506.2 1981 506C1983.7 505.8 1986.7 505.9 1989.6 506C1992.5 506.1 1995.8 506.9 1998.2 506.7C2000.6 506.4 2002.1 505.5 2004 504.5C2005.9 503.5 2007.4 502.4 2009.8 500.9C2012.2 499.3 2015.5 496.9 2018.4 495.2C2021.3 493.5 2024.1 491.8 2027 490.8C2029.9 489.8 2033 490 2035.7 489.4C2038.4 488.8 2040.8 487.7 2043 487.2C2045.2 486.7 2047 486.4 2048.7 486.5C2050.4 486.6 2051.7 487.4 2053 488C2054.3 488.6 2056 489.8 2056.6 490.1"/>
<path d="M1.2 475V495M13.8 502V531M34.9 570V607M39.1 560V577M43.3 535V565M47.5 538V575M60.2 551V566M68.6 582V604M72.9 569V596M77.1 579V596M89.7 587V608M102.4 578V611M115 573V596M119.3 585V596M123.5 587V598M127.7 562V589M136.1 565V581M140.3 564V588M153 578V590M161.4 591V605M165.7 583V603M174.1 571V596M178.3 559V573M182.5 553V564M186.7 545V564M191 525V555M199.4 511V535M203.6 491V514M212.1 475V514M220.5 461V490M224.7 452V475M237.4 477V504M241.6 458V476M245.8 432V446M254.2 430V449M262.7 416V437M266.9 409V433M275.3 412V432M279.5 393V425M288 386V404M292.2 362V371M296.4 330V357M304.8 331V353M309.1 322V345M321.7 329V357M338.6 323V354M351.2 332V366M368.1 386V402M372.3 363V380M380.8 348V379M385 339V363M397.6 333V356M414.5 368V386M418.7 346V382M431.4 342V366M439.8 387V398M444 375V394M473.6 441V455M482 413V447M498.9 424V452M507.3 403V438M511.5 379V396M515.7 348V374M520 330V365M524.2 315V341M532.6 305V325M536.8 301V340M549.5 330V356M553.7 320V342M557.9 321V332M566.4 315V331M570.6 308V317M574.8 274V308M579 256V287M591.7 281V301M608.5 293V319M612.8 293V316M617 300V312M625.4 315V351M629.6 318V333M638.1 354V373M646.5 341V377M659.2 350V383M663.4 338V364M671.8 351V363M680.2 367V377M684.5 359V382M692.9 360V376M714 455V483M718.2 436V472M722.4 438V456M730.9 439V467M735.1 427V458M739.3 405V429M747.7 387V424M764.6 427V448M777.3 425V458M781.5 422V447M798.4 422V436M802.6 411V436M823.7 443V458M827.9 416V455M840.5 402V427M844.8 380V400M853.2 386V414M861.6 374.5V398M874.3 373.6V390.7M886.9 393.4V421M899.6 394V407M903.8 375V403M908 350V383M912.2 324V336M920.7 320V355M924.9 295V326M941.8 334V363M967.1 406V444M988.2 410.5V432M1013.5 427V443M1017.7 399V433M1026.1 410.5V428.5M1030.3 384V400.6M1047.2 354.7V398.8M1059.9 363.7V390M1064.1 361V374.5M1081 375.4V409.6M1089.4 332V367.3M1097.8 322V347.5M1106.3 335.8V358.3M1110.5 303V339M1114.7 279V300.6M1118.9 265V282M1127.4 257V285M1131.6 229V263M1135.8 217V253M1144.2 219V241.7M1148.4 193V220M1161.1 191V218M1169.5 177V211M1186.4 163V187M1203.3 137V163M1211.7 218V220M1215.9 222.8V243.5M1228.6 271.4V303M1237 256V280.5M1245.5 264V292M1249.7 258V276M1253.9 241.7V267M1275 260.6V271.4M1291.9 259.7V276M1308.7 266V289.5M1312.9 267V281M1355.1 328V369M1367.8 318V335M1372 321.6V338.7M1384.7 336V348.6M1393.1 319.8V340.5M1410 324.8V338.3M1439.5 382V400M1447.9 403.6V420.5M1456.4 372V400M1469 361V378.8M1473.2 350.7V378.8M1490.1 350.7V369.8M1498.5 372V390M1515.4 375.5V385.6M1523.8 375.5V384.5M1528.1 377.7V390M1532.3 377.7V387.8M1544.9 381V393.5M1553.4 394.6V405.9M1557.6 364V404.7M1578.7 410V430.6M1595.6 414.9V440.8M1633.5 491.4V509.5M1650.4 478V506M1658.8 461V478M1663 445.3V467.8M1671.5 443V469M1675.7 455.4V465.5M1679.9 448.6V466.7M1696.8 458V481M1705.2 475V485.8M1709.4 462.8V485.8M1713.7 439.9V467.6M1730.5 437V452.7M1739 433V454.7M1747.4 416V443M1760.1 423V440.5M1789.6 447.3V459.5M1814.9 459.5V471.6M1840.2 457.4V468M1878.2 488.5V507.4M1882.4 499.5V508M1890.8 505V522.5M1895 502V514M1911.9 498V512.5M1916.1 493.7V503.8M1937.2 503.8V512.5M1941.4 492.3V507.4M1966.7 514V527.6M1971 498.8V519M1975.2 471.4V493.7M1992 497.3V507.4M2004.7 430.3V454M2038.4 490.8V509.6" stroke="#089981" stroke-width="1.8" fill="none"/>
<path d="M-0.6 475h3.6V495h-3.6ZM12 507.6h3.6V529.4h-3.6ZM33.1 588.8h3.6V603.6h-3.6ZM37.3 560.9h3.6V576.2h-3.6ZM41.5 536.5h3.6V563.5h-3.6ZM45.7 542.8h3.6V570.6h-3.6ZM58.4 553.9h3.6V561.4h-3.6ZM66.8 582h3.6V604h-3.6ZM71.1 574.1h3.6V580.9h-3.6ZM75.3 580h3.6V594.5h-3.6ZM87.9 590h3.6V605.8h-3.6ZM100.6 578h3.6V611h-3.6ZM113.2 584.2h3.6V593.4h-3.6ZM117.5 587.1h3.6V593.7h-3.6ZM121.7 587h3.6V598h-3.6ZM125.9 566.8h3.6V580.3h-3.6ZM134.3 568.6h3.6V579.8h-3.6ZM138.5 573.4h3.6V585.4h-3.6ZM151.2 579.2h3.6V589.4h-3.6ZM159.6 591h3.6V603.6h-3.6ZM163.9 585.1h3.6V599.1h-3.6ZM172.3 572.1h3.6V594.6h-3.6ZM176.5 564.5h3.6V570.1h-3.6ZM180.7 553.4h3.6V561.7h-3.6ZM184.9 549.9h3.6V563.2h-3.6ZM189.2 526.9h3.6V534.4h-3.6ZM197.6 517.4h3.6V529.4h-3.6ZM201.8 494.6h3.6V511.9h-3.6ZM210.3 489.8h3.6V513.2h-3.6ZM218.7 471.1h3.6V482.7h-3.6ZM222.9 453.7h3.6V467.5h-3.6ZM235.6 480.2h3.6V503.2h-3.6ZM239.8 463.5h3.6V472.5h-3.6ZM244 432h3.6V446h-3.6ZM252.4 430h3.6V449h-3.6ZM260.9 420.5h3.6V433.1h-3.6ZM265.1 410.6h3.6V432.2h-3.6ZM273.5 414.5h3.6V428.5h-3.6ZM277.7 400.6h3.6V416.6h-3.6ZM286.2 387.6h3.6V403.8h-3.6ZM290.4 362.2h3.6V370.3h-3.6ZM294.6 337.3h3.6V350.8h-3.6ZM303 333.6h3.6V350.1h-3.6ZM307.3 322h3.6V345h-3.6ZM319.9 332h3.6V343.2h-3.6ZM336.8 329.3h3.6V352.5h-3.6ZM349.4 332.6h3.6V349.6h-3.6ZM366.3 386h3.6V402h-3.6ZM370.5 364.9h3.6V375.1h-3.6ZM379 348h3.6V379h-3.6ZM383.2 341.1h3.6V357.9h-3.6ZM395.8 333h3.6V356h-3.6ZM412.7 373.3h3.6V382.3h-3.6ZM416.9 362.9h3.6V377.3h-3.6ZM429.6 342h3.6V366h-3.6ZM438 387.4h3.6V390.1h-3.6ZM442.2 376.2h3.6V393.3h-3.6ZM471.8 441.7h3.6V448.7h-3.6ZM480.2 417h3.6V445.9h-3.6ZM497.1 425.6h3.6V445.2h-3.6ZM505.5 406h3.6V435.7h-3.6ZM509.7 379h3.6V396h-3.6ZM513.9 357.7h3.6V364.2h-3.6ZM518.2 330h3.6V365h-3.6ZM522.4 327.1h3.6V337.5h-3.6ZM530.8 306.3h3.6V323.3h-3.6ZM535 320.9h3.6V330.6h-3.6ZM547.7 332.1h3.6V354.2h-3.6ZM551.9 328.5h3.6V337.3h-3.6ZM556.1 324.9h3.6V331.5h-3.6ZM564.6 323.2h3.6V327.2h-3.6ZM568.8 313.3h3.6V316.9h-3.6ZM573 278.5h3.6V292.1h-3.6ZM577.2 258.4h3.6V270.8h-3.6ZM589.9 290.2h3.6V300.2h-3.6ZM606.7 293h3.6V319h-3.6ZM611 294.5h3.6V315.2h-3.6ZM615.2 303.3h3.6V311.7h-3.6ZM623.6 316.6h3.6V325.6h-3.6ZM627.8 318h3.6V333h-3.6ZM636.3 354h3.6V373h-3.6ZM644.7 344.3h3.6V371.3h-3.6ZM657.4 365.9h3.6V382.4h-3.6ZM661.6 343.7h3.6V354.1h-3.6ZM670 351.9h3.6V362.1h-3.6ZM678.5 367h3.6V377h-3.6ZM682.7 359.4h3.6V375.5h-3.6ZM691.1 360h3.6V376h-3.6ZM712.2 457.5h3.6V481.3h-3.6ZM716.4 447.6h3.6V469.2h-3.6ZM720.6 441.7h3.6V454.3h-3.6ZM729.1 439.7h3.6V463.5h-3.6ZM733.3 433.7h3.6V441.5h-3.6ZM737.5 414.7h3.6V426.7h-3.6ZM745.9 387h3.6V424h-3.6ZM762.8 433.6h3.6V446.2h-3.6ZM775.5 427.3h3.6V457h-3.6ZM779.7 426.4h3.6V443.9h-3.6ZM796.6 424h3.6V429.6h-3.6ZM800.8 411h3.6V436h-3.6ZM821.9 444.6h3.6V450.6h-3.6ZM826.1 420.2h3.6V447.5h-3.6ZM838.7 402.4h3.6V417.4h-3.6ZM843 380.7h3.6V398.7h-3.6ZM851.4 388.2h3.6V413.4h-3.6ZM859.8 380.6h3.6V386.5h-3.6ZM872.5 373.6h3.6V390.7h-3.6ZM885.1 395.5h3.6V420.4h-3.6ZM897.8 394.7h3.6V404.4h-3.6ZM902 380.3h3.6V394.3h-3.6ZM906.2 351.3h3.6V359.5h-3.6ZM910.4 324h3.6V336h-3.6ZM918.9 338.1h3.6V352.1h-3.6ZM923.1 299.3h3.6V325.6h-3.6ZM940 334h3.6V363h-3.6ZM965.3 429.9h3.6V439.4h-3.6ZM986.4 425.6h3.6V431h-3.6ZM1011.7 427.4h3.6V441h-3.6ZM1015.9 410h3.6V430.4h-3.6ZM1024.3 416.3h3.6V427.1h-3.6ZM1028.5 391.7h3.6V400h-3.6ZM1045.4 379.2h3.6V396.8h-3.6ZM1058.1 365.8h3.6V385.5h-3.6ZM1062.3 363.6h3.6V371.7h-3.6ZM1079.2 375.4h3.6V409.6h-3.6ZM1087.6 336.4h3.6V361.1h-3.6ZM1096 326.4h3.6V344.2h-3.6ZM1104.5 338.7h3.6V350h-3.6ZM1108.7 309.9h3.6V324.3h-3.6ZM1112.9 279.2h3.6V298.7h-3.6ZM1117.1 265h3.6V282h-3.6ZM1125.6 258h3.6V277.6h-3.6ZM1129.8 242.2h3.6V262.6h-3.6ZM1134 222.4h3.6V253h-3.6ZM1142.4 224.3h3.6V233.4h-3.6ZM1146.6 196.6h3.6V219.6h-3.6ZM1159.3 200h3.6V206.7h-3.6ZM1167.7 184.5h3.6V201.5h-3.6ZM1184.6 163h3.6V187h-3.6ZM1201.5 150.9h3.6V161.3h-3.6ZM1209.9 218.2h3.6V220.2h-3.6ZM1214.1 222.8h3.6V243.5h-3.6ZM1226.8 271.4h3.6V303h-3.6ZM1235.2 258.1h3.6V276.4h-3.6ZM1243.7 267.8h3.6V291.6h-3.6ZM1247.9 258.2h3.6V274.4h-3.6ZM1252.1 243.6h3.6V261.3h-3.6ZM1273.2 261.6h3.6V271.4h-3.6ZM1290.1 261.1h3.6V275h-3.6ZM1306.9 275.4h3.6V281.2h-3.6ZM1311.1 267h3.6V281h-3.6ZM1353.3 345.6h3.6V362h-3.6ZM1366 318h3.6V335h-3.6ZM1370.2 322.9h3.6V329.7h-3.6ZM1382.9 336.7h3.6V344.3h-3.6ZM1391.3 320.3h3.6V337.9h-3.6ZM1408.2 324.8h3.6V338.3h-3.6ZM1437.7 382h3.6V400h-3.6ZM1446.1 405.3h3.6V419.6h-3.6ZM1454.6 372h3.6V400h-3.6ZM1467.2 362h3.6V372.7h-3.6ZM1471.4 354h3.6V377.9h-3.6ZM1488.3 350.7h3.6V369.8h-3.6ZM1496.7 380.4h3.6V384.9h-3.6ZM1513.6 376.6h3.6V383.6h-3.6ZM1522 375.5h3.6V384.5h-3.6ZM1526.3 377.7h3.6V390h-3.6ZM1530.5 380.5h3.6V384.6h-3.6ZM1543.1 386.5h3.6V392.8h-3.6ZM1551.6 395.4h3.6V403.3h-3.6ZM1555.8 382.1h3.6V398.4h-3.6ZM1576.9 412.4h3.6V427.8h-3.6ZM1593.8 416.3h3.6V435.8h-3.6ZM1631.7 498h3.6V505.2h-3.6ZM1648.6 486.8h3.6V498h-3.6ZM1657 461.6h3.6V474.3h-3.6ZM1661.2 450.8h3.6V464.3h-3.6ZM1669.7 443h3.6V469h-3.6ZM1673.9 455.7h3.6V464.8h-3.6ZM1678.1 452.3h3.6V461.4h-3.6ZM1695 458h3.6V481h-3.6ZM1703.4 475h3.6V485.8h-3.6ZM1707.6 464.4h3.6V485.1h-3.6ZM1711.9 445.9h3.6V465.3h-3.6ZM1728.7 446.3h3.6V450.2h-3.6ZM1737.2 434.2h3.6V449.4h-3.6ZM1745.6 418.3h3.6V441.3h-3.6ZM1758.3 423h3.6V440.5h-3.6ZM1787.8 447.3h3.6V459.5h-3.6ZM1813.1 465.6h3.6V468.7h-3.6ZM1838.4 457.8h3.6V467.4h-3.6ZM1876.4 488.5h3.6V507.4h-3.6ZM1880.6 500.3h3.6V507.5h-3.6ZM1889 505h3.6V522.5h-3.6ZM1893.2 504h3.6V511.2h-3.6ZM1910.1 505.5h3.6V509.1h-3.6ZM1914.3 499.7h3.6V502.2h-3.6ZM1935.4 505.1h3.6V507.3h-3.6ZM1939.6 493.5h3.6V507.1h-3.6ZM1964.9 514h3.6V527.6h-3.6ZM1969.2 499.7h3.6V507.8h-3.6ZM1973.4 471.4h3.6V493.7h-3.6ZM1990.2 498.7h3.6V504.8h-3.6ZM2002.9 430.3h3.6V454h-3.6ZM2036.6 490.8h3.6V509.6h-3.6Z" fill="#089981"/>
<path d="M5.4 478V492M9.6 491V517M18 517V545M22.2 553V575M26.5 556V590M30.7 565V600M51.8 532V560M56 546V570M64.4 568V590M81.3 576V596M85.5 587V608M93.9 587V605M98.2 594V607M106.6 560V579M110.8 570V596M131.9 562V583M144.6 560V588M148.8 577V594M157.2 583V605M169.9 585V596M195.2 512V533M207.8 482V512M216.3 462V495M228.9 462V476M233.1 473V501M250 416V445M258.4 429V448M271.1 420V430M283.8 393.5V420.5M300.6 323V356M313.3 324V350M317.5 339V370M325.9 317V348M330.2 339V356M334.4 339V361M342.8 325V366M347 349V379M355.5 339V366M359.7 363V392M363.9 380V405M376.6 350V379M389.2 349V363M393.4 349V374M401.9 343V368M406.1 350V375M410.3 373V386M423 340V365M427.2 336V366M435.6 356V393M448.3 376V393M452.5 374V400M456.7 392V404M460.9 391V408M465.1 395V410M469.3 403V416M477.8 431V461M486.2 405V430M490.4 420V439M494.7 432V458M503.1 418V439M528.4 311V324M541.1 303V327M545.3 319V344M562.1 319V342M583.2 259V293M587.5 274V296M595.9 272V293M600.1 284V297M604.3 301V318M621.2 321V347M633.9 328V356M642.3 353V375M650.7 335V355M654.9 353V379M667.6 340V355M676 358V376M688.7 372V388M697.1 371V404M701.3 392V421M705.6 411V451M709.8 412V449M726.6 447V484M743.5 377V413M752 389V427M756.2 416V434M760.4 420V449M768.8 430V446M773 434V465M785.7 431V447M789.9 417V437M794.1 422V437M806.8 411V427M811 420V431M815.2 420V435M819.4 424V455M832.1 398V420M836.3 410V425M849 387V411M857.4 387V402M865.8 374.5V394M870.1 382V394M878.5 379V418M882.7 400V437M891.1 383.5V408.7M895.4 403V416M916.5 295V328.6M929.1 302V333M933.3 310.5V335M937.5 332V353M946 322V364M950.2 329V346M954.4 332V374.5M958.6 364V393M962.9 391V424M971.3 402V419.5M975.5 399V421M979.7 412V444M983.9 429.5V457M992.4 411V427M996.6 414V432M1000.8 416V430M1005 416V439M1009.3 433V442M1021.9 390V419.5M1034.6 352V403M1038.8 382V403M1043 387V400M1051.4 351V382.6M1055.7 354V379M1068.3 354.7V373.6M1072.5 371.8V399.7M1076.7 389V408.7M1085.2 358.3V374.5M1093.6 332V361M1102 330V356.5M1123.1 238V279.5M1140 197.6V249M1152.7 189.5V218M1156.9 204V229M1165.3 200V224.6M1173.8 150.7V178.6M1178 158V184M1182.2 162.4V190.4M1190.6 152.5V168.7M1194.8 145V159M1199.1 149V176M1207.5 146V192M1220.2 223.7V279.5M1224.4 277.7V312M1232.8 257V297.6M1241.2 257V300M1258.1 212V228M1262.3 213V250M1266.6 250.7V272M1270.8 255V282M1279.2 244.4V266M1283.4 257V271.4M1287.6 258V275M1296.1 267.8V284M1300.3 274V291M1304.5 269.6V289.5M1317.2 261.5V278.6M1321.4 256V272M1325.6 255V274M1329.8 268.7V285.9M1334 279.5V299.4M1338.3 294V329M1342.5 316V343M1346.7 312.6V341M1350.9 332V371M1359.3 315V333M1363.6 331.5V347.7M1376.2 316V343M1380.4 336V357.7M1388.9 327V344M1397.3 318V336M1401.5 313.5V336M1405.7 331.5V342.8M1414.2 355V376.6M1418.4 357V374M1422.6 355V376.6M1426.8 370V395.7M1431.1 375.5V396.8M1435.3 375.5V402.5M1443.7 380V407M1452.1 393.5V413.7M1460.6 362V376.6M1464.8 359.7V378.8M1477.5 353V383M1481.7 364V379M1485.9 360.8V374.3M1494.3 364V389M1502.8 365V378.8M1507 369.8V383M1511.2 373V387.8M1519.6 374.3V384.5M1536.5 376.6V392M1540.7 378.8V394.6M1549.2 378.8V399M1561.8 371V384.5M1566 382V399M1570.2 404.7V431.8M1574.5 405.9V430.6M1582.9 404.7V428.4M1587.1 422.7V445.3M1591.3 431.8V446.4M1599.8 410V430.6M1604 416V447.5M1608.2 432.9V443M1612.4 431.8V444.1M1616.6 440.8V457.7M1620.9 447.5V475.7M1625.1 463.3V478M1629.3 480V512.8M1637.7 484.7V498M1642 487V501.6M1646.2 498V520.7M1654.6 462V484.7M1667.3 454V466.7M1684.1 460V481.3M1688.4 471V481.3M1692.6 474.3V487.8M1701 475.7V485.8M1717.9 429V450.7M1722.1 433V451.4M1726.3 445.3V457.4M1734.8 438V451.4M1743.2 427.7V446.6M1751.6 416.9V433.8M1755.8 421V440.5M1764.3 423V444M1768.5 434.5V446.6M1772.7 436.5V451.4M1776.9 424.3V444.6M1781.1 429V444M1785.4 443V457.4M1793.8 414.9V428.4M1798 423.6V441.9M1802.2 436.5V449.3M1806.5 444V455.4M1810.7 448.6V459.5M1819.1 450.7V465.5M1823.3 455.4V465.5M1827.5 460V468M1831.8 460V468M1836 456V470M1844.4 458V467.6M1848.6 454.7V462M1852.9 455.4V477M1857.1 482.4V494.6M1861.3 477V497.3M1865.5 489.9V516.2M1869.7 494V516.2M1873.9 494.6V506.8M1886.6 499.5V521.8M1899.3 495V508M1903.5 501V511.7M1907.7 502.4V512.5M1920.3 489.4V505M1924.6 497.3V510.3M1928.8 498V509.6M1933 499.5V516.8M1945.6 488V503.8M1949.9 497.3V511M1954.1 503.8V518.2M1958.3 508V532.6M1962.5 522.5V535.5M1979.4 482.2V508M1983.6 483.6V506.7M1987.8 493V511.7M1996.3 498.8V503.8M2000.5 499.5V508.8M2008.9 428V451.2M2013.1 436V450.4M2017.4 439V453.3M2021.6 451.2V467.8M2025.8 475.7V489.4M2030 469.2V485M2034.2 475V511M2042.7 492.3V501M2046.9 496.6V506.7M2051.1 507.4V545.6" stroke="#f23645" stroke-width="1.8" fill="none"/>
<path d="M3.6 478h3.6V492h-3.6ZM7.8 502.6h3.6V515.6h-3.6ZM16.2 520.5h3.6V544.3h-3.6ZM20.4 553.5h3.6V562.3h-3.6ZM24.7 556h3.6V590h-3.6ZM28.9 572.3h3.6V593.3h-3.6ZM50 535.1h3.6V558.9h-3.6ZM54.2 546.5h3.6V568.1h-3.6ZM62.6 577.6h3.6V586.4h-3.6ZM79.5 577.1h3.6V582.1h-3.6ZM83.7 589h3.6V606.8h-3.6ZM92.1 589.4h3.6V596.6h-3.6ZM96.4 595.8h3.6V606.9h-3.6ZM104.8 561.3h3.6V577.5h-3.6ZM109 571.7h3.6V584.7h-3.6ZM130.1 563.5h3.6V581.3h-3.6ZM142.8 561h3.6V586.2h-3.6ZM147 578.8h3.6V589h-3.6ZM155.4 585.2h3.6V603.9h-3.6ZM168.1 586.1h3.6V593.8h-3.6ZM193.4 512h3.6V533h-3.6ZM206 496.8h3.6V504.3h-3.6ZM214.5 464.5h3.6V487.6h-3.6ZM227.1 462.5h3.6V475.1h-3.6ZM231.3 475.9h3.6V489.9h-3.6ZM248.2 427.6h3.6V439.2h-3.6ZM256.6 430.1h3.6V443.4h-3.6ZM269.3 423.3h3.6V427.3h-3.6ZM282 393.5h3.6V420.5h-3.6ZM298.8 327h3.6V335.2h-3.6ZM311.5 330.6h3.6V348.8h-3.6ZM315.7 342.3h3.6V365.6h-3.6ZM324.1 321.9h3.6V345.2h-3.6ZM328.4 339.3h3.6V343.5h-3.6ZM332.6 350.3h3.6V355.8h-3.6ZM341 337.6h3.6V354h-3.6ZM345.2 351.3h3.6V378.3h-3.6ZM353.7 341.5h3.6V364.5h-3.6ZM357.9 363.7h3.6V385.4h-3.6ZM362.1 382.1h3.6V400.9h-3.6ZM374.8 353.1h3.6V374.8h-3.6ZM387.4 349.6h3.6V362.2h-3.6ZM391.6 349h3.6V374h-3.6ZM400.1 349.5h3.6V364.5h-3.6ZM404.3 355h3.6V365h-3.6ZM408.5 375.3h3.6V385.1h-3.6ZM421.2 347.5h3.6V353.7h-3.6ZM425.4 336h3.6V366h-3.6ZM433.8 357.7h3.6V389.1h-3.6ZM446.5 386.1h3.6V390.3h-3.6ZM450.7 374h3.6V400h-3.6ZM454.9 392h3.6V404h-3.6ZM459.1 391h3.6V408h-3.6ZM463.3 396.9h3.6V402.9h-3.6ZM467.5 403.8h3.6V415.5h-3.6ZM476 444h3.6V459h-3.6ZM484.4 411.9h3.6V418.2h-3.6ZM488.6 427.5h3.6V437h-3.6ZM492.9 432h3.6V458h-3.6ZM501.3 423h3.6V428.3h-3.6ZM526.6 312.1h3.6V323.2h-3.6ZM539.3 303h3.6V327h-3.6ZM543.5 324.9h3.6V337.4h-3.6ZM560.3 326.4h3.6V332.1h-3.6ZM581.4 266h3.6V274.5h-3.6ZM585.7 274h3.6V296h-3.6ZM594.1 276.1h3.6V291.8h-3.6ZM598.3 288.7h3.6V295.2h-3.6ZM602.5 304h3.6V310.8h-3.6ZM619.4 335h3.6V341.5h-3.6ZM632.1 330.6h3.6V350.2h-3.6ZM640.5 354.3h3.6V374.1h-3.6ZM648.9 335h3.6V355h-3.6ZM653.1 354.8h3.6V378.2h-3.6ZM665.8 344.7h3.6V352.2h-3.6ZM674.2 359.7h3.6V375.9h-3.6ZM686.9 372h3.6V388h-3.6ZM695.3 391.6h3.6V399.8h-3.6ZM699.5 392h3.6V421h-3.6ZM703.8 411h3.6V451h-3.6ZM708 417.6h3.6V439.8h-3.6ZM724.8 449.4h3.6V477.2h-3.6ZM741.7 377h3.6V413h-3.6ZM750.2 390.3h3.6V424.5h-3.6ZM754.4 421.8h3.6V429h-3.6ZM758.6 422.3h3.6V448.4h-3.6ZM767 432h3.6V441.6h-3.6ZM771.2 449.8h3.6V457.5h-3.6ZM783.9 440.5h3.6V444.5h-3.6ZM788.1 418.1h3.6V436.1h-3.6ZM792.3 422h3.6V437h-3.6ZM805 415.2h3.6V426.4h-3.6ZM809.2 420h3.6V431h-3.6ZM813.4 420h3.6V435h-3.6ZM817.6 426.6h3.6V445.2h-3.6ZM830.3 398h3.6V420h-3.6ZM834.5 410h3.6V425h-3.6ZM847.2 392.4h3.6V402h-3.6ZM855.6 389.4h3.6V396.9h-3.6ZM864 374.5h3.6V394h-3.6ZM868.3 382.2h3.6V387h-3.6ZM876.7 379h3.6V418h-3.6ZM880.9 404.7h3.6V430.6h-3.6ZM889.3 383.5h3.6V408.7h-3.6ZM893.6 406.3h3.6V415.4h-3.6ZM914.7 296.6h3.6V326.9h-3.6ZM927.3 306.8h3.6V319.2h-3.6ZM931.5 310.5h3.6V335h-3.6ZM935.7 344.1h3.6V352.5h-3.6ZM944.2 325.6h3.6V363.4h-3.6ZM948.4 333.1h3.6V345.9h-3.6ZM952.6 334.9h3.6V360.4h-3.6ZM956.8 372.2h3.6V392.5h-3.6ZM961.1 413.3h3.6V421.6h-3.6ZM969.5 405.4h3.6V409.8h-3.6ZM973.7 399h3.6V421h-3.6ZM977.9 412.2h3.6V441h-3.6ZM982.1 433.9h3.6V447.6h-3.6ZM990.6 413.8h3.6V425h-3.6ZM994.8 415.4h3.6V431.6h-3.6ZM999 420h3.6V425.6h-3.6ZM1003.2 417.5h3.6V434.7h-3.6ZM1007.5 435h3.6V438.6h-3.6ZM1020.1 400.4h3.6V407.7h-3.6ZM1032.8 353.6h3.6V384.2h-3.6ZM1037 382h3.6V403h-3.6ZM1041.2 392.1h3.6V398.6h-3.6ZM1049.6 355h3.6V381.9h-3.6ZM1053.9 360.8h3.6V370.8h-3.6ZM1066.5 355.4h3.6V369.5h-3.6ZM1070.7 380h3.6V396.8h-3.6ZM1074.9 396h3.6V405.9h-3.6ZM1083.4 359.7h3.6V374.3h-3.6ZM1091.8 333.8h3.6V351.2h-3.6ZM1100.2 332.7h3.6V351.2h-3.6ZM1121.3 247.3h3.6V272.2h-3.6ZM1138.2 216.6h3.6V247.5h-3.6ZM1150.9 207.3h3.6V214.4h-3.6ZM1155.1 205.1h3.6V222.6h-3.6ZM1163.5 200h3.6V224.6h-3.6ZM1172 150.7h3.6V178.6h-3.6ZM1176.2 160.8h3.6V180.3h-3.6ZM1180.4 163.3h3.6V187.1h-3.6ZM1188.8 156.7h3.6V164.8h-3.6ZM1193 149h3.6V157.4h-3.6ZM1197.3 155.5h3.6V171.7h-3.6ZM1205.7 149.5h3.6V190.9h-3.6ZM1218.4 236.7h3.6V270.2h-3.6ZM1222.6 277.8h3.6V298.4h-3.6ZM1231 272.8h3.6V282.9h-3.6ZM1239.4 257.4h3.6V296.1h-3.6ZM1256.3 212h3.6V228h-3.6ZM1260.5 213.3h3.6V241.1h-3.6ZM1264.8 253.8h3.6V269.7h-3.6ZM1269 262.2h3.6V269h-3.6ZM1277.4 246h3.6V254.6h-3.6ZM1281.6 261.7h3.6V270.3h-3.6ZM1285.8 261.3h3.6V274.1h-3.6ZM1294.3 271.3h3.6V275.4h-3.6ZM1298.5 283.7h3.6V290.5h-3.6ZM1302.7 270.5h3.6V288.4h-3.6ZM1315.4 268.1h3.6V278.4h-3.6ZM1319.6 260h3.6V269.6h-3.6ZM1323.8 256h3.6V265.5h-3.6ZM1328 271.6h3.6V283.6h-3.6ZM1332.2 279.8h3.6V284.8h-3.6ZM1336.5 297.7h3.6V318.7h-3.6ZM1340.7 316h3.6V343h-3.6ZM1344.9 314.1h3.6V339.6h-3.6ZM1349.1 332.4h3.6V367.5h-3.6ZM1357.5 318.7h3.6V323.2h-3.6ZM1361.8 332.3h3.6V346.9h-3.6ZM1374.4 319.6h3.6V342.5h-3.6ZM1378.6 336h3.6V357.7h-3.6ZM1387.1 327h3.6V344h-3.6ZM1395.5 330.7h3.6V335.2h-3.6ZM1399.7 315.8h3.6V335h-3.6ZM1403.9 331.5h3.6V342.8h-3.6ZM1412.4 367.6h3.6V373h-3.6ZM1416.6 358.7h3.6V371.5h-3.6ZM1420.8 358.9h3.6V375.1h-3.6ZM1425 370h3.6V395.7h-3.6ZM1429.3 379.8h3.6V395.8h-3.6ZM1433.5 375.5h3.6V402.5h-3.6ZM1441.9 381.7h3.6V401.9h-3.6ZM1450.3 399h3.6V404.1h-3.6ZM1458.8 363.6h3.6V374.5h-3.6ZM1463 359.7h3.6V378.8h-3.6ZM1475.7 354.9h3.6V381.9h-3.6ZM1479.9 364.4h3.6V368.1h-3.6ZM1484.1 360.8h3.6V374.3h-3.6ZM1492.5 364h3.6V389h-3.6ZM1501 365.5h3.6V375.2h-3.6ZM1505.2 374.1h3.6V377.4h-3.6ZM1509.4 376.2h3.6V379.9h-3.6ZM1517.8 374.9h3.6V380h-3.6ZM1534.7 376.6h3.6V392h-3.6ZM1538.9 379h3.6V393.2h-3.6ZM1547.4 380.5h3.6V397.7h-3.6ZM1560 374.4h3.6V383.9h-3.6ZM1564.2 382h3.6V399h-3.6ZM1568.4 411.7h3.6V428h-3.6ZM1572.7 411.3h3.6V426.1h-3.6ZM1581.1 404.7h3.6V428.4h-3.6ZM1585.3 423.8h3.6V444.1h-3.6ZM1589.5 431.9h3.6V442.2h-3.6ZM1598 410h3.6V430.6h-3.6ZM1602.2 416h3.6V447.5h-3.6ZM1606.4 433.3h3.6V440.9h-3.6ZM1610.6 433.4h3.6V440.8h-3.6ZM1614.8 442.9h3.6V455.6h-3.6ZM1619.1 454.9h3.6V474.7h-3.6ZM1623.3 465h3.6V473.9h-3.6ZM1627.5 483.9h3.6V492.1h-3.6ZM1635.9 486.2h3.6V496.1h-3.6ZM1640.2 492.7h3.6V496.3h-3.6ZM1644.4 498.8h3.6V519.2h-3.6ZM1652.8 466.7h3.6V478.1h-3.6ZM1665.5 457.1h3.6V466h-3.6ZM1682.3 460.1h3.6V468.6h-3.6ZM1686.6 471h3.6V481.3h-3.6ZM1690.8 474.8h3.6V487h-3.6ZM1699.2 478.3h3.6V485.4h-3.6ZM1716.1 431.3h3.6V446.5h-3.6ZM1720.3 433h3.6V451.4h-3.6ZM1724.5 446.5h3.6V456.8h-3.6ZM1733 438.5h3.6V450.6h-3.6ZM1741.4 432.3h3.6V445.5h-3.6ZM1749.8 416.9h3.6V433.8h-3.6ZM1754 422.6h3.6V437.2h-3.6ZM1762.5 424.1h3.6V439.8h-3.6ZM1766.7 436.1h3.6V446.4h-3.6ZM1770.9 436.8h3.6V440.5h-3.6ZM1775.1 427.7h3.6V442h-3.6ZM1779.3 429.4h3.6V442.9h-3.6ZM1783.6 443h3.6V457.4h-3.6ZM1792 415.9h3.6V427.4h-3.6ZM1796.2 423.6h3.6V441.9h-3.6ZM1800.4 437.2h3.6V448.1h-3.6ZM1804.7 444.1h3.6V452.7h-3.6ZM1808.9 449.8h3.6V458h-3.6ZM1817.3 450.7h3.6V465.5h-3.6ZM1821.5 456h3.6V464.6h-3.6ZM1825.7 460.8h3.6V467.6h-3.6ZM1830 460h3.6V468h-3.6ZM1834.2 461.4h3.6V469.8h-3.6ZM1842.6 458h3.6V467.6h-3.6ZM1846.8 454.7h3.6V462h-3.6ZM1851.1 455.4h3.6V477h-3.6ZM1855.3 483.6h3.6V488.5h-3.6ZM1859.5 478.9h3.6V494.1h-3.6ZM1863.7 502.9h3.6V513.5h-3.6ZM1867.9 494h3.6V516.2h-3.6ZM1872.1 497.1h3.6V505.7h-3.6ZM1884.8 499.5h3.6V521.8h-3.6ZM1897.5 501.1h3.6V504.4h-3.6ZM1901.7 501h3.6V511.7h-3.6ZM1905.9 502.4h3.6V512.5h-3.6ZM1918.5 492.7h3.6V503.6h-3.6ZM1922.8 497.3h3.6V510.3h-3.6ZM1927 499.4h3.6V507.5h-3.6ZM1931.2 505.6h3.6V512.5h-3.6ZM1943.8 488h3.6V503.8h-3.6ZM1948.1 497.3h3.6V511h-3.6ZM1952.3 507.9h3.6V515.1h-3.6ZM1956.5 510.2h3.6V531.1h-3.6ZM1960.7 523.5h3.6V530h-3.6ZM1977.6 483.8h3.6V507h-3.6ZM1981.8 494.9h3.6V500.6h-3.6ZM1986 493h3.6V511.7h-3.6ZM1994.5 498.9h3.6V501.4h-3.6ZM1998.7 504.3h3.6V508h-3.6ZM2007.1 432.2h3.6V446.1h-3.6ZM2011.3 436h3.6V448.3h-3.6ZM2015.6 444.1h3.6V452.7h-3.6ZM2019.8 451.2h3.6V467.8h-3.6ZM2024 480.2h3.6V483.6h-3.6ZM2028.2 469.2h3.6V485h-3.6ZM2032.4 475.6h3.6V497.2h-3.6ZM2040.9 492.3h3.6V498.8h-3.6ZM2045.1 496.9h3.6V506h-3.6ZM2049.3 507.4h3.6V545.6h-3.6Z" fill="#f23645"/>
<line x1="273" y1="318" x2="2102" y2="318" stroke="#00332a" stroke-width="3.8"/>
<line x1="20" y1="614" x2="2102" y2="614" stroke="#00332a" stroke-width="3.8" stroke-linecap="round"/>
<line x1="0" y1="541.8" x2="2102" y2="541.8" stroke="#089981" stroke-width="2" stroke-dasharray="2 4"/>
<line x1="2053.3" y1="541.8" x2="2057.7" y2="541.8" stroke="#089981" stroke-width="2"/>
<rect x="0" y="846" width="2238" height="2" fill="#e0e3eb"/>
<text x="1945" y="236" text-anchor="end" font-family="'DejaVu Sans', 'Liberation Sans', sans-serif" font-size="27" fill="#0b3b2e" textLength="372" lengthAdjust="spacingAndGlyphs">انجمن خبرگان سرمایه گذاری ایران</text>
<text x="1948" y="263" text-anchor="end" font-family="'DejaVu Sans', 'Liberation Sans', sans-serif" font-size="25.5" fill="#0b3b2e" textLength="272" lengthAdjust="spacingAndGlyphs">Amoozesh-boors.com</text>
<text x="2118" y="46.8" font-family="'Liberation Sans', 'DejaVu Sans', sans-serif" font-size="24" fill="#131722" textLength="57" lengthAdjust="spacingAndGlyphs">2,200</text>
<text x="2118" y="160.7" font-family="'Liberation Sans', 'DejaVu Sans', sans-serif" font-size="24" fill="#131722" textLength="57" lengthAdjust="spacingAndGlyphs">1,800</text>
<text x="2118" y="227.5" font-family="'Liberation Sans', 'DejaVu Sans', sans-serif" font-size="24" fill="#131722" textLength="57" lengthAdjust="spacingAndGlyphs">1,600</text>
<text x="2118" y="303.3" font-family="'Liberation Sans', 'DejaVu Sans', sans-serif" font-size="24" fill="#131722" textLength="57" lengthAdjust="spacingAndGlyphs">1,400</text>
<text x="2118" y="390.8" font-family="'Liberation Sans', 'DejaVu Sans', sans-serif" font-size="24" fill="#131722" textLength="57" lengthAdjust="spacingAndGlyphs">1,200</text>
<text x="2118" y="535.5" font-family="'Liberation Sans', 'DejaVu Sans', sans-serif" font-size="24" fill="#131722" textLength="37" lengthAdjust="spacingAndGlyphs">930</text>
<text x="2118" y="688.6" font-family="'Liberation Sans', 'DejaVu Sans', sans-serif" font-size="24" fill="#131722" textLength="37" lengthAdjust="spacingAndGlyphs">710</text>
<text x="2118" y="756.5" font-family="'Liberation Sans', 'DejaVu Sans', sans-serif" font-size="24" fill="#131722" textLength="37" lengthAdjust="spacingAndGlyphs">630</text>
<text x="2118" y="823.3" font-family="'Liberation Sans', 'DejaVu Sans', sans-serif" font-size="24" fill="#131722" textLength="37" lengthAdjust="spacingAndGlyphs">560</text>
<path d="M2102 301.2 H2180 a4 4 0 0 1 4 4 V331 a4 4 0 0 1 -4 4 H2102 Z" fill="#00332a"/>
<text x="2118" y="325.1" font-family="'Liberation Sans', 'DejaVu Sans', sans-serif" font-size="24" fill="#ffffff" textLength="57" lengthAdjust="spacingAndGlyphs">1,350</text>
<path d="M2102 440.2 H2180 a4 4 0 0 1 4 4 V469.7 a4 4 0 0 1 -4 4 H2102 Z" fill="#f23645"/>
<text x="2118" y="465.4" font-family="'Liberation Sans', 'DejaVu Sans', sans-serif" font-size="24" fill="#ffffff" textLength="57" lengthAdjust="spacingAndGlyphs">995.4</text>
<path d="M2102 474.2 H2204 a4 4 0 0 1 4 4 V503.5 a4 4 0 0 1 -4 4 H2102 Z" fill="#2196f3"/>
<text x="2118" y="499.4" font-family="'Liberation Sans', 'DejaVu Sans', sans-serif" font-size="24" fill="#ffffff" textLength="82" lengthAdjust="spacingAndGlyphs">994.514</text>
<path d="M2102 525.2 H2160 a4 4 0 0 1 4 4 V554.8 a4 4 0 0 1 -4 4 H2102 Z" fill="#089981"/>
<text x="2118" y="550.5" font-family="'Liberation Sans', 'DejaVu Sans', sans-serif" font-size="24" fill="#ffffff" textLength="37" lengthAdjust="spacingAndGlyphs">908</text>
<path d="M2102 597.8 H2160 a4 4 0 0 1 4 4 V626.8 a4 4 0 0 1 -4 4 H2102 Z" fill="#00332a"/>
<text x="2118" y="622.8" font-family="'Liberation Sans', 'DejaVu Sans', sans-serif" font-size="24" fill="#ffffff" textLength="37" lengthAdjust="spacingAndGlyphs">800</text>
<path d="M2102 776.2 H2224 a4 4 0 0 1 4 4 V805.2 a4 4 0 0 1 -4 4 H2102 Z" fill="#9c27b0"/>
<text x="2118" y="801.2" font-family="'Liberation Sans', 'DejaVu Sans', sans-serif" font-size="24" fill="#ffffff" textLength="97" lengthAdjust="spacingAndGlyphs">103.747M</text>
<path d="M2102 811.9 H2212 a4 4 0 0 1 4 4 V841.1 a4 4 0 0 1 -4 4 H2102 Z" fill="#22ab94"/>
<text x="2118" y="837" font-family="'Liberation Sans', 'DejaVu Sans', sans-serif" font-size="24" fill="#ffffff" textLength="85" lengthAdjust="spacingAndGlyphs">13.181M</text>
<text x="2118" y="900.7" font-family="'Liberation Sans', 'DejaVu Sans', sans-serif" font-size="24" fill="#131722" textLength="57" lengthAdjust="spacingAndGlyphs">75.00</text>
<text x="2118" y="971.5" font-family="'Liberation Sans', 'DejaVu Sans', sans-serif" font-size="24" fill="#131722" textLength="57" lengthAdjust="spacingAndGlyphs">50.00</text>
<text x="2118" y="1042.5" font-family="'Liberation Sans', 'DejaVu Sans', sans-serif" font-size="24" fill="#131722" textLength="57" lengthAdjust="spacingAndGlyphs">25.00</text>
<path d="M2102 990.4 H2180 a4 4 0 0 1 4 4 V1019.7 a4 4 0 0 1 -4 4 H2102 Z" fill="#7e57c2"/>
<text x="2118" y="1015.5" font-family="'Liberation Sans', 'DejaVu Sans', sans-serif" font-size="24" fill="#ffffff" textLength="57" lengthAdjust="spacingAndGlyphs">34.68</text>
<text x="130.7" y="1095" text-anchor="middle" font-family="'DejaVu Sans', 'Liberation Sans', sans-serif" font-size="23" fill="#131722">اسفند</text>
<text x="371.3" y="1095" text-anchor="middle" font-family="'DejaVu Sans', 'Liberation Sans', sans-serif" font-size="23" fill="#131722">خرداد</text>
<text x="559.7" y="1095" text-anchor="middle" font-family="'DejaVu Sans', 'Liberation Sans', sans-serif" font-size="23" fill="#131722">شهریور</text>
<text x="721.6" y="1095" text-anchor="middle" font-family="'DejaVu Sans', 'Liberation Sans', sans-serif" font-size="23" fill="#131722">آبان</text>
<text x="1047" y="1095" text-anchor="middle" font-family="'DejaVu Sans', 'Liberation Sans', sans-serif" font-size="23" fill="#131722">اسفند</text>
<text x="1257" y="1095" text-anchor="middle" font-family="'DejaVu Sans', 'Liberation Sans', sans-serif" font-size="23" fill="#131722">خرداد</text>
<text x="1476.4" y="1095" text-anchor="middle" font-family="'DejaVu Sans', 'Liberation Sans', sans-serif" font-size="23" fill="#131722">شهریور</text>
<text x="1970.7" y="1095" text-anchor="middle" font-family="'DejaVu Sans', 'Liberation Sans', sans-serif" font-size="23" fill="#131722">اسفند</text>
<text x="881.4" y="1095" text-anchor="middle" font-family="'Liberation Sans', 'DejaVu Sans', sans-serif" font-size="23" font-weight="bold" fill="#131722">1401</text>
<text x="1638" y="1095" text-anchor="middle" font-family="'Liberation Sans', 'DejaVu Sans', sans-serif" font-size="23" font-weight="normal" fill="#131722">8</text>
<text x="1803.3" y="1095" text-anchor="middle" font-family="'Liberation Sans', 'DejaVu Sans', sans-serif" font-size="23" font-weight="bold" fill="#131722">1402</text>
<polygon points="2154.5,1087 2161.7,1074.8 2176.3,1074.8 2183.5,1087 2176.3,1099.2 2161.7,1099.2" fill="none" stroke="#131722" stroke-width="1.8" stroke-linejoin="round"/>
<circle cx="2169" cy="1087" r="4.6" fill="none" stroke="#131722" stroke-width="1.8"/>
</svg>
</body></html>
